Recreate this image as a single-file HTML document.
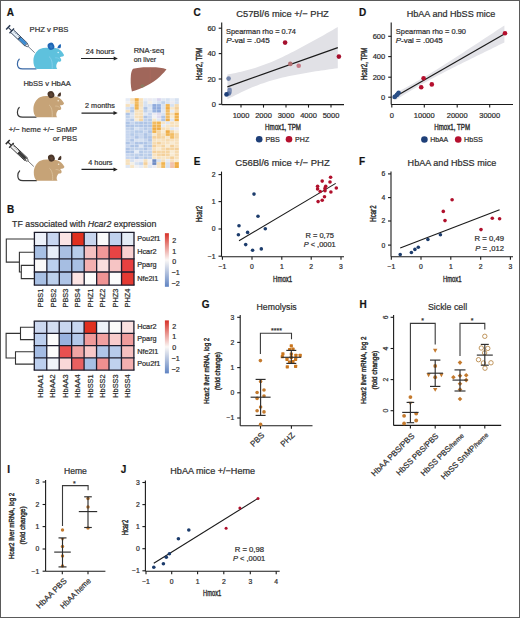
<!DOCTYPE html>
<html><head><meta charset="utf-8"><style>
html,body{margin:0;padding:0;background:#fff;}
svg{display:block;}
text{font-family:"Liberation Sans",sans-serif;stroke:#333;stroke-width:0.22px;}
</style></head><body>
<svg width="520" height="618" viewBox="0 0 520 618">
<rect x="0" y="0" width="520" height="618" fill="#fff"/>
<text x="6.7" y="15.9" font-size="10" fill="#111" font-weight="bold">A</text>
<text x="29.6" y="32" font-size="7.9" fill="#333" textLength="38.8" lengthAdjust="spacingAndGlyphs">PHZ v PBS</text>
<text x="23.4" y="85.7" font-size="7.9" fill="#333" textLength="47.5" lengthAdjust="spacingAndGlyphs">HbSS v HbAA</text>
<text x="8.7" y="131.7" font-size="7.9" fill="#333" textLength="68.3" lengthAdjust="spacingAndGlyphs">+/− heme +/− SnMP</text>
<text x="52.8" y="140.7" font-size="7.9" fill="#333" textLength="24.2" lengthAdjust="spacingAndGlyphs">or PBS</text>
<text x="85.7" y="53.8" font-size="7.4" fill="#333" textLength="28.7" lengthAdjust="spacingAndGlyphs">24 hours</text>
<text x="85.1" y="107.9" font-size="7.4" fill="#333" textLength="29.7" lengthAdjust="spacingAndGlyphs">2 months</text>
<text x="88.3" y="164.9" font-size="7.4" fill="#333" textLength="24.2" lengthAdjust="spacingAndGlyphs">4 hours</text>
<text x="133.7" y="53" font-size="7.4" fill="#333" textLength="30.5" lengthAdjust="spacingAndGlyphs">RNA·seq</text>
<text x="133.7" y="61.9" font-size="7.4" fill="#333" textLength="22.4" lengthAdjust="spacingAndGlyphs">on liver</text>
<line x1="81" y1="58.5" x2="114.7" y2="58.5" stroke="#222" stroke-width="1.1" />
<path d="M117.9,58.5 L113.7,56.5 L113.7,60.5 Z" fill="#222" />
<line x1="81.5" y1="113.1" x2="114.5" y2="113.1" stroke="#222" stroke-width="1.1" />
<path d="M117.7,113.1 L113.5,111.1 L113.5,115.1 Z" fill="#222" />
<line x1="81.5" y1="169.4" x2="114.5" y2="169.4" stroke="#222" stroke-width="1.1" />
<path d="M117.7,169.4 L113.5,167.4 L113.5,171.4 Z" fill="#222" />
<g transform="translate(0,0)">
<path d="M36,68.9 L22.5,68.9 C19.2,68.9 17.4,66.8 17.4,64 C17.4,61.6 18.1,60.2 19.2,59.2" fill="none" stroke="#3a69a6" stroke-width="1.2" stroke-linecap="round"/>
<path d="M36.5,68.9 C34.2,67.5 33.3,64 33.4,60.5 C33.5,55.5 36,51 40,49 C43,47.7 46,47.6 49,48 C52,48.3 55,47.8 57.5,48.6 C60,49.6 62.2,51.8 63.9,54.8 C64.2,55.6 63.6,56.3 62.6,56.6 C61.6,56.9 60.6,57 59.8,57.2 C60.6,58 61.4,59.3 61.2,60.4 C61,61.4 59.8,61.8 58.4,61.6 C57.3,62.5 56.6,64 56.3,65.6 C56.1,67 56.6,68.2 57.2,68.9 Z" fill="#5ec1dd" />
<ellipse cx="51" cy="46.3" rx="3.3" ry="3.6" transform="rotate(-25 51 46.3)" fill="#1f66b5"/>
<ellipse cx="51.2" cy="46.6" rx="1.5" ry="1.9" transform="rotate(-25 51.2 46.6)" fill="#2f7cc4"/>
<path d="M57.4,48.3 C57.6,46.5 58.6,45 60.6,44 C61.2,45.6 61.1,47.2 60.2,48.3 Z" fill="#1f66b5" />
<path d="M49,56.5 C51.5,58.5 52.6,62.5 52.2,68.6" fill="none" stroke="#8ad0ec" stroke-width="0.8" />
<path d="M55.2,57.8 C57,57.6 58.6,58.2 59.6,59.2" fill="none" stroke="#8ad0ec" stroke-width="0.7" />
<circle cx="58.2" cy="52.5" r="0.8" fill="#d6f2fb" />
</g>
<g transform="translate(0,48.3)">
<path d="M36,68.9 L22.5,68.9 C19.2,68.9 17.4,66.8 17.4,64 C17.4,61.6 18.1,60.2 19.2,59.2" fill="none" stroke="#383838" stroke-width="1.2" stroke-linecap="round"/>
<path d="M36.5,68.9 C34.2,67.5 33.3,64 33.4,60.5 C33.5,55.5 36,51 40,49 C43,47.7 46,47.6 49,48 C52,48.3 55,47.8 57.5,48.6 C60,49.6 62.2,51.8 63.9,54.8 C64.2,55.6 63.6,56.3 62.6,56.6 C61.6,56.9 60.6,57 59.8,57.2 C60.6,58 61.4,59.3 61.2,60.4 C61,61.4 59.8,61.8 58.4,61.6 C57.3,62.5 56.6,64 56.3,65.6 C56.1,67 56.6,68.2 57.2,68.9 Z" fill="#c6a377" />
<ellipse cx="51" cy="46.3" rx="3.3" ry="3.6" transform="rotate(-25 51 46.3)" fill="#4a3629"/>
<ellipse cx="51.2" cy="46.6" rx="1.5" ry="1.9" transform="rotate(-25 51.2 46.6)" fill="#5e4434"/>
<path d="M57.4,48.3 C57.6,46.5 58.6,45 60.6,44 C61.2,45.6 61.1,47.2 60.2,48.3 Z" fill="#4a3629" />
<path d="M49,56.5 C51.5,58.5 52.6,62.5 52.2,68.6" fill="none" stroke="#dcc4a0" stroke-width="0.8" />
<path d="M55.2,57.8 C57,57.6 58.6,58.2 59.6,59.2" fill="none" stroke="#dcc4a0" stroke-width="0.7" />
<circle cx="58.2" cy="52.5" r="0.8" fill="#f4ead6" />
</g>
<g transform="translate(0.4,111.8)">
<path d="M36,68.9 L22.5,68.9 C19.2,68.9 17.4,66.8 17.4,64 C17.4,61.6 18.1,60.2 19.2,59.2" fill="none" stroke="#383838" stroke-width="1.2" stroke-linecap="round"/>
<path d="M36.5,68.9 C34.2,67.5 33.3,64 33.4,60.5 C33.5,55.5 36,51 40,49 C43,47.7 46,47.6 49,48 C52,48.3 55,47.8 57.5,48.6 C60,49.6 62.2,51.8 63.9,54.8 C64.2,55.6 63.6,56.3 62.6,56.6 C61.6,56.9 60.6,57 59.8,57.2 C60.6,58 61.4,59.3 61.2,60.4 C61,61.4 59.8,61.8 58.4,61.6 C57.3,62.5 56.6,64 56.3,65.6 C56.1,67 56.6,68.2 57.2,68.9 Z" fill="#c6a377" />
<ellipse cx="51" cy="46.3" rx="3.3" ry="3.6" transform="rotate(-25 51 46.3)" fill="#4a3629"/>
<ellipse cx="51.2" cy="46.6" rx="1.5" ry="1.9" transform="rotate(-25 51.2 46.6)" fill="#5e4434"/>
<path d="M57.4,48.3 C57.6,46.5 58.6,45 60.6,44 C61.2,45.6 61.1,47.2 60.2,48.3 Z" fill="#4a3629" />
<path d="M49,56.5 C51.5,58.5 52.6,62.5 52.2,68.6" fill="none" stroke="#dcc4a0" stroke-width="0.8" />
<path d="M55.2,57.8 C57,57.6 58.6,58.2 59.6,59.2" fill="none" stroke="#dcc4a0" stroke-width="0.7" />
<circle cx="58.2" cy="52.5" r="0.8" fill="#f4ead6" />
</g>
<g transform="translate(7.3,26.6) rotate(43.61)">
<line x1="1.2" y1="-2.9" x2="1.2" y2="2.9" stroke="#2b3a52" stroke-width="1.5" />
<line x1="1.2" y1="0" x2="6.5" y2="0" stroke="#2b3a52" stroke-width="1.1" />
<line x1="6.2" y1="-3.3" x2="6.2" y2="3.3" stroke="#2b3a52" stroke-width="1.4" />
<rect x="6.5" y="-1.9" width="19.5" height="3.8" fill="#e8f2fa" stroke="#2b3a52" stroke-width="0.85"/>
<line x1="9" y1="-1.9" x2="9" y2="-0.5" stroke="#2b3a52" stroke-width="0.6" />
<line x1="11" y1="-1.9" x2="11" y2="-0.5" stroke="#2b3a52" stroke-width="0.6" />
<line x1="13" y1="-1.9" x2="13" y2="-0.5" stroke="#2b3a52" stroke-width="0.6" />
<line x1="15" y1="-1.9" x2="15" y2="-0.5" stroke="#2b3a52" stroke-width="0.6" />
<rect x="16.5" y="-1.5" width="9" height="3" fill="#3a8ad0" />
<line x1="16.6" y1="-1.9" x2="16.6" y2="1.9" stroke="#2b3a52" stroke-width="1.1" />
<path d="M26,-1.6 L28.6,-0.8 L28.6,0.8 L26,1.6 Z" fill="#e8f2fa" stroke="#2b3a52" stroke-width="0.7" />
<line x1="28.6" y1="0" x2="37.84" y2="0" stroke="#2b3a52" stroke-width="0.6" />
</g>
<g transform="translate(6.9,141.2) rotate(43.24)">
<line x1="1.2" y1="-2.9" x2="1.2" y2="2.9" stroke="#2e2e2e" stroke-width="1.5" />
<line x1="1.2" y1="0" x2="6.5" y2="0" stroke="#2e2e2e" stroke-width="1.1" />
<line x1="6.2" y1="-3.3" x2="6.2" y2="3.3" stroke="#2e2e2e" stroke-width="1.4" />
<rect x="6.5" y="-1.9" width="19.5" height="3.8" fill="#f0f0f0" stroke="#2e2e2e" stroke-width="0.85"/>
<line x1="9" y1="-1.9" x2="9" y2="-0.5" stroke="#2e2e2e" stroke-width="0.6" />
<line x1="11" y1="-1.9" x2="11" y2="-0.5" stroke="#2e2e2e" stroke-width="0.6" />
<line x1="13" y1="-1.9" x2="13" y2="-0.5" stroke="#2e2e2e" stroke-width="0.6" />
<line x1="15" y1="-1.9" x2="15" y2="-0.5" stroke="#2e2e2e" stroke-width="0.6" />
<rect x="16.5" y="-1.5" width="9" height="3" fill="#3a3a3a" />
<line x1="16.6" y1="-1.9" x2="16.6" y2="1.9" stroke="#2e2e2e" stroke-width="1.1" />
<path d="M26,-1.6 L28.6,-0.8 L28.6,0.8 L26,1.6 Z" fill="#f0f0f0" stroke="#2e2e2e" stroke-width="0.7" />
<line x1="28.6" y1="0" x2="36.93" y2="0" stroke="#2e2e2e" stroke-width="0.6" />
</g>
<path d="M133.1,68.8 C137,67.5 145,67 150,67.3 C156,67.2 162,67.5 166.5,69.3 C165.5,71 163.5,73 160,76.5 C156,80.5 151,83.5 146,86 C141,88.5 136,90.5 131.9,91.5 C130.5,86 130.5,80 130.9,75 C131.2,72 132,70 133.1,68.8 Z" fill="#a0665a" />
<line x1="150.2" y1="67.6" x2="150.2" y2="82.5" stroke="#b06a5e" stroke-width="0.6" />
<ellipse cx="142.5" cy="86" rx="2" ry="1.4" fill="#8a7a5e"/>
<rect x="125.6" y="98.2" width="4.48" height="2.95" fill="#e6ecf6" />
<rect x="130.03" y="98.2" width="4.48" height="2.95" fill="#f6e0bc" />
<rect x="134.47" y="98.2" width="4.48" height="2.95" fill="#efac44" />
<rect x="138.9" y="98.2" width="4.48" height="2.95" fill="#f8e1bc" />
<rect x="143.33" y="98.2" width="4.48" height="2.95" fill="#e6ecf6" />
<rect x="147.77" y="98.2" width="4.48" height="2.95" fill="#eceaf0" />
<rect x="152.2" y="98.2" width="4.48" height="2.95" fill="#e6ecf6" />
<rect x="156.63" y="98.2" width="4.48" height="2.95" fill="#d8d4ee" />
<rect x="161.07" y="98.2" width="4.48" height="2.95" fill="#dfe7f3" />
<rect x="165.5" y="98.2" width="4.48" height="2.95" fill="#d6e1f1" />
<rect x="169.93" y="98.2" width="4.48" height="2.95" fill="#e6ecf6" />
<rect x="174.37" y="98.2" width="4.48" height="2.95" fill="#d6e1f1" />
<rect x="125.6" y="101.1" width="4.48" height="2.95" fill="#f1f1f3" />
<rect x="130.03" y="101.1" width="4.48" height="2.95" fill="#f7e6c8" />
<rect x="134.47" y="101.1" width="4.48" height="2.95" fill="#f2bc62" />
<rect x="138.9" y="101.1" width="4.48" height="2.95" fill="#f6e0bc" />
<rect x="143.33" y="101.1" width="4.48" height="2.95" fill="#d6e1f1" />
<rect x="147.77" y="101.1" width="4.48" height="2.95" fill="#f4efe6" />
<rect x="152.2" y="101.1" width="4.48" height="2.95" fill="#e6ecf6" />
<rect x="156.63" y="101.1" width="4.48" height="2.95" fill="#d6e1f1" />
<rect x="161.07" y="101.1" width="4.48" height="2.95" fill="#bfd1eb" />
<rect x="165.5" y="101.1" width="4.48" height="2.95" fill="#d6e1f1" />
<rect x="169.93" y="101.1" width="4.48" height="2.95" fill="#eceaf0" />
<rect x="174.37" y="101.1" width="4.48" height="2.95" fill="#d6e1f1" />
<rect x="125.6" y="104.01" width="4.48" height="2.95" fill="#f6e0bc" />
<rect x="130.03" y="104.01" width="4.48" height="2.95" fill="#dfe7f3" />
<rect x="134.47" y="104.01" width="4.48" height="2.95" fill="#f0b450" />
<rect x="138.9" y="104.01" width="4.48" height="2.95" fill="#f6e0bc" />
<rect x="143.33" y="104.01" width="4.48" height="2.95" fill="#d6e1f1" />
<rect x="147.77" y="104.01" width="4.48" height="2.95" fill="#d6e1f1" />
<rect x="152.2" y="104.01" width="4.48" height="2.95" fill="#8eaadc" />
<rect x="156.63" y="104.01" width="4.48" height="2.95" fill="#98b2e0" />
<rect x="161.07" y="104.01" width="4.48" height="2.95" fill="#d6e1f1" />
<rect x="165.5" y="104.01" width="4.48" height="2.95" fill="#f0b450" />
<rect x="169.93" y="104.01" width="4.48" height="2.95" fill="#d6e1f1" />
<rect x="174.37" y="104.01" width="4.48" height="2.95" fill="#f6dbb0" />
<rect x="125.6" y="106.91" width="4.48" height="2.95" fill="#d6e1f1" />
<rect x="130.03" y="106.91" width="4.48" height="2.95" fill="#bfd1eb" />
<rect x="134.47" y="106.91" width="4.48" height="2.95" fill="#f0b450" />
<rect x="138.9" y="106.91" width="4.48" height="2.95" fill="#f7e6c8" />
<rect x="143.33" y="106.91" width="4.48" height="2.95" fill="#aec4e6" />
<rect x="147.77" y="106.91" width="4.48" height="2.95" fill="#dfe7f3" />
<rect x="152.2" y="106.91" width="4.48" height="2.95" fill="#8eaadc" />
<rect x="156.63" y="106.91" width="4.48" height="2.95" fill="#8eaadc" />
<rect x="161.07" y="106.91" width="4.48" height="2.95" fill="#d6e1f1" />
<rect x="165.5" y="106.91" width="4.48" height="2.95" fill="#efac44" />
<rect x="169.93" y="106.91" width="4.48" height="2.95" fill="#f7e6c8" />
<rect x="174.37" y="106.91" width="4.48" height="2.95" fill="#f4d09a" />
<rect x="125.6" y="109.82" width="4.48" height="2.95" fill="#f6e0bc" />
<rect x="130.03" y="109.82" width="4.48" height="2.95" fill="#b5cae8" />
<rect x="134.47" y="109.82" width="4.48" height="2.95" fill="#f8e1bc" />
<rect x="138.9" y="109.82" width="4.48" height="2.95" fill="#f6e0bc" />
<rect x="143.33" y="109.82" width="4.48" height="2.95" fill="#bfd1eb" />
<rect x="147.77" y="109.82" width="4.48" height="2.95" fill="#d6e1f1" />
<rect x="152.2" y="109.82" width="4.48" height="2.95" fill="#98b2e0" />
<rect x="156.63" y="109.82" width="4.48" height="2.95" fill="#8eaadc" />
<rect x="161.07" y="109.82" width="4.48" height="2.95" fill="#dfe7f3" />
<rect x="165.5" y="109.82" width="4.48" height="2.95" fill="#f2bc62" />
<rect x="169.93" y="109.82" width="4.48" height="2.95" fill="#e6ecf6" />
<rect x="174.37" y="109.82" width="4.48" height="2.95" fill="#f6dbb0" />
<rect x="125.6" y="112.72" width="4.48" height="2.95" fill="#aec4e6" />
<rect x="130.03" y="112.72" width="4.48" height="2.95" fill="#d6e1f1" />
<rect x="134.47" y="112.72" width="4.48" height="2.95" fill="#f8e1bc" />
<rect x="138.9" y="112.72" width="4.48" height="2.95" fill="#f6e0bc" />
<rect x="143.33" y="112.72" width="4.48" height="2.95" fill="#dfe7f3" />
<rect x="147.77" y="112.72" width="4.48" height="2.95" fill="#c6d5ee" />
<rect x="152.2" y="112.72" width="4.48" height="2.95" fill="#eceaf0" />
<rect x="156.63" y="112.72" width="4.48" height="2.95" fill="#e0dcf0" />
<rect x="161.07" y="112.72" width="4.48" height="2.95" fill="#d6e1f1" />
<rect x="165.5" y="112.72" width="4.48" height="2.95" fill="#f2bc62" />
<rect x="169.93" y="112.72" width="4.48" height="2.95" fill="#f6e0bc" />
<rect x="174.37" y="112.72" width="4.48" height="2.95" fill="#efac44" />
<rect x="125.6" y="115.62" width="4.48" height="2.95" fill="#bfd1eb" />
<rect x="130.03" y="115.62" width="4.48" height="2.95" fill="#d6e1f1" />
<rect x="134.47" y="115.62" width="4.48" height="2.95" fill="#f6e0bc" />
<rect x="138.9" y="115.62" width="4.48" height="2.95" fill="#f6dbb0" />
<rect x="143.33" y="115.62" width="4.48" height="2.95" fill="#aec4e6" />
<rect x="147.77" y="115.62" width="4.48" height="2.95" fill="#c6d5ee" />
<rect x="152.2" y="115.62" width="4.48" height="2.95" fill="#f1f1f3" />
<rect x="156.63" y="115.62" width="4.48" height="2.95" fill="#e0dcf0" />
<rect x="161.07" y="115.62" width="4.48" height="2.95" fill="#aec4e6" />
<rect x="165.5" y="115.62" width="4.48" height="2.95" fill="#f2bc62" />
<rect x="169.93" y="115.62" width="4.48" height="2.95" fill="#f8ebd3" />
<rect x="174.37" y="115.62" width="4.48" height="2.95" fill="#f0b450" />
<rect x="125.6" y="118.53" width="4.48" height="2.95" fill="#c6d5ee" />
<rect x="130.03" y="118.53" width="4.48" height="2.95" fill="#b5cae8" />
<rect x="134.47" y="118.53" width="4.48" height="2.95" fill="#f8ebd3" />
<rect x="138.9" y="118.53" width="4.48" height="2.95" fill="#f5d5a2" />
<rect x="143.33" y="118.53" width="4.48" height="2.95" fill="#bfd1eb" />
<rect x="147.77" y="118.53" width="4.48" height="2.95" fill="#b5cae8" />
<rect x="152.2" y="118.53" width="4.48" height="2.95" fill="#f7e6c8" />
<rect x="156.63" y="118.53" width="4.48" height="2.95" fill="#dfe7f3" />
<rect x="161.07" y="118.53" width="4.48" height="2.95" fill="#aec4e6" />
<rect x="165.5" y="118.53" width="4.48" height="2.95" fill="#efac44" />
<rect x="169.93" y="118.53" width="4.48" height="2.95" fill="#dfe7f3" />
<rect x="174.37" y="118.53" width="4.48" height="2.95" fill="#efac44" />
<rect x="125.6" y="121.43" width="4.48" height="2.95" fill="#aec4e6" />
<rect x="130.03" y="121.43" width="4.48" height="2.95" fill="#c6d5ee" />
<rect x="134.47" y="121.43" width="4.48" height="2.95" fill="#b5cae8" />
<rect x="138.9" y="121.43" width="4.48" height="2.95" fill="#aec4e6" />
<rect x="143.33" y="121.43" width="4.48" height="2.95" fill="#aec4e6" />
<rect x="147.77" y="121.43" width="4.48" height="2.95" fill="#b5cae8" />
<rect x="152.2" y="121.43" width="4.48" height="2.95" fill="#f2bc62" />
<rect x="156.63" y="121.43" width="4.48" height="2.95" fill="#f0b450" />
<rect x="161.07" y="121.43" width="4.48" height="2.95" fill="#f7e6c8" />
<rect x="165.5" y="121.43" width="4.48" height="2.95" fill="#dfe7f3" />
<rect x="169.93" y="121.43" width="4.48" height="2.95" fill="#f8e1bc" />
<rect x="174.37" y="121.43" width="4.48" height="2.95" fill="#f7e6c8" />
<rect x="125.6" y="124.34" width="4.48" height="2.95" fill="#aec4e6" />
<rect x="130.03" y="124.34" width="4.48" height="2.95" fill="#aec4e6" />
<rect x="134.47" y="124.34" width="4.48" height="2.95" fill="#b5cae8" />
<rect x="138.9" y="124.34" width="4.48" height="2.95" fill="#aec4e6" />
<rect x="143.33" y="124.34" width="4.48" height="2.95" fill="#aec4e6" />
<rect x="147.77" y="124.34" width="4.48" height="2.95" fill="#aec4e6" />
<rect x="152.2" y="124.34" width="4.48" height="2.95" fill="#f0b450" />
<rect x="156.63" y="124.34" width="4.48" height="2.95" fill="#f0b450" />
<rect x="161.07" y="124.34" width="4.48" height="2.95" fill="#e6ecf6" />
<rect x="165.5" y="124.34" width="4.48" height="2.95" fill="#f7e6c8" />
<rect x="169.93" y="124.34" width="4.48" height="2.95" fill="#f8e1bc" />
<rect x="174.37" y="124.34" width="4.48" height="2.95" fill="#f6e0bc" />
<rect x="125.6" y="127.24" width="4.48" height="2.95" fill="#bfd1eb" />
<rect x="130.03" y="127.24" width="4.48" height="2.95" fill="#b5cae8" />
<rect x="134.47" y="127.24" width="4.48" height="2.95" fill="#d6e1f1" />
<rect x="138.9" y="127.24" width="4.48" height="2.95" fill="#c6d5ee" />
<rect x="143.33" y="127.24" width="4.48" height="2.95" fill="#b5cae8" />
<rect x="147.77" y="127.24" width="4.48" height="2.95" fill="#bfd1eb" />
<rect x="152.2" y="127.24" width="4.48" height="2.95" fill="#efac44" />
<rect x="156.63" y="127.24" width="4.48" height="2.95" fill="#efac44" />
<rect x="161.07" y="127.24" width="4.48" height="2.95" fill="#f6e0bc" />
<rect x="165.5" y="127.24" width="4.48" height="2.95" fill="#f8e1bc" />
<rect x="169.93" y="127.24" width="4.48" height="2.95" fill="#dfe7f3" />
<rect x="174.37" y="127.24" width="4.48" height="2.95" fill="#eceaf0" />
<rect x="125.6" y="130.15" width="4.48" height="2.95" fill="#c6d5ee" />
<rect x="130.03" y="130.15" width="4.48" height="2.95" fill="#bfd1eb" />
<rect x="134.47" y="130.15" width="4.48" height="2.95" fill="#b5cae8" />
<rect x="138.9" y="130.15" width="4.48" height="2.95" fill="#b5cae8" />
<rect x="143.33" y="130.15" width="4.48" height="2.95" fill="#c6d5ee" />
<rect x="147.77" y="130.15" width="4.48" height="2.95" fill="#aec4e6" />
<rect x="152.2" y="130.15" width="4.48" height="2.95" fill="#f0b450" />
<rect x="156.63" y="130.15" width="4.48" height="2.95" fill="#f5d5a2" />
<rect x="161.07" y="130.15" width="4.48" height="2.95" fill="#f8ebd3" />
<rect x="165.5" y="130.15" width="4.48" height="2.95" fill="#efac44" />
<rect x="169.93" y="130.15" width="4.48" height="2.95" fill="#f5d5a2" />
<rect x="174.37" y="130.15" width="4.48" height="2.95" fill="#f8ebd3" />
<rect x="125.6" y="133.05" width="4.48" height="2.95" fill="#c6d5ee" />
<rect x="130.03" y="133.05" width="4.48" height="2.95" fill="#b5cae8" />
<rect x="134.47" y="133.05" width="4.48" height="2.95" fill="#bfd1eb" />
<rect x="138.9" y="133.05" width="4.48" height="2.95" fill="#c6d5ee" />
<rect x="143.33" y="133.05" width="4.48" height="2.95" fill="#aec4e6" />
<rect x="147.77" y="133.05" width="4.48" height="2.95" fill="#bfd1eb" />
<rect x="152.2" y="133.05" width="4.48" height="2.95" fill="#f7e6c8" />
<rect x="156.63" y="133.05" width="4.48" height="2.95" fill="#f4d09a" />
<rect x="161.07" y="133.05" width="4.48" height="2.95" fill="#f6e0bc" />
<rect x="165.5" y="133.05" width="4.48" height="2.95" fill="#f0b450" />
<rect x="169.93" y="133.05" width="4.48" height="2.95" fill="#f2bc62" />
<rect x="174.37" y="133.05" width="4.48" height="2.95" fill="#f5d5a2" />
<rect x="125.6" y="135.95" width="4.48" height="2.95" fill="#c6d5ee" />
<rect x="130.03" y="135.95" width="4.48" height="2.95" fill="#c6d5ee" />
<rect x="134.47" y="135.95" width="4.48" height="2.95" fill="#aec4e6" />
<rect x="138.9" y="135.95" width="4.48" height="2.95" fill="#c6d5ee" />
<rect x="143.33" y="135.95" width="4.48" height="2.95" fill="#aec4e6" />
<rect x="147.77" y="135.95" width="4.48" height="2.95" fill="#aec4e6" />
<rect x="152.2" y="135.95" width="4.48" height="2.95" fill="#f4d09a" />
<rect x="156.63" y="135.95" width="4.48" height="2.95" fill="#f4d09a" />
<rect x="161.07" y="135.95" width="4.48" height="2.95" fill="#f5d5a2" />
<rect x="165.5" y="135.95" width="4.48" height="2.95" fill="#f7e6c8" />
<rect x="169.93" y="135.95" width="4.48" height="2.95" fill="#f2bc62" />
<rect x="174.37" y="135.95" width="4.48" height="2.95" fill="#f5d5a2" />
<rect x="125.6" y="138.86" width="4.48" height="2.95" fill="#c6d5ee" />
<rect x="130.03" y="138.86" width="4.48" height="2.95" fill="#aec4e6" />
<rect x="134.47" y="138.86" width="4.48" height="2.95" fill="#d6e1f1" />
<rect x="138.9" y="138.86" width="4.48" height="2.95" fill="#d6e1f1" />
<rect x="143.33" y="138.86" width="4.48" height="2.95" fill="#c6d5ee" />
<rect x="147.77" y="138.86" width="4.48" height="2.95" fill="#aec4e6" />
<rect x="152.2" y="138.86" width="4.48" height="2.95" fill="#f8e1bc" />
<rect x="156.63" y="138.86" width="4.48" height="2.95" fill="#f7e6c8" />
<rect x="161.07" y="138.86" width="4.48" height="2.95" fill="#f8e1bc" />
<rect x="165.5" y="138.86" width="4.48" height="2.95" fill="#f6dbb0" />
<rect x="169.93" y="138.86" width="4.48" height="2.95" fill="#f8e1bc" />
<rect x="174.37" y="138.86" width="4.48" height="2.95" fill="#f8e1bc" />
<rect x="125.6" y="141.76" width="4.48" height="2.95" fill="#aec4e6" />
<rect x="130.03" y="141.76" width="4.48" height="2.95" fill="#c6d5ee" />
<rect x="134.47" y="141.76" width="4.48" height="2.95" fill="#aec4e6" />
<rect x="138.9" y="141.76" width="4.48" height="2.95" fill="#aec4e6" />
<rect x="143.33" y="141.76" width="4.48" height="2.95" fill="#aec4e6" />
<rect x="147.77" y="141.76" width="4.48" height="2.95" fill="#bfd1eb" />
<rect x="152.2" y="141.76" width="4.48" height="2.95" fill="#f6dbb0" />
<rect x="156.63" y="141.76" width="4.48" height="2.95" fill="#f4d09a" />
<rect x="161.07" y="141.76" width="4.48" height="2.95" fill="#f8e1bc" />
<rect x="165.5" y="141.76" width="4.48" height="2.95" fill="#f8e1bc" />
<rect x="169.93" y="141.76" width="4.48" height="2.95" fill="#f8ebd3" />
<rect x="174.37" y="141.76" width="4.48" height="2.95" fill="#f8e1bc" />
<rect x="125.6" y="144.67" width="4.48" height="2.95" fill="#c6d5ee" />
<rect x="130.03" y="144.67" width="4.48" height="2.95" fill="#aec4e6" />
<rect x="134.47" y="144.67" width="4.48" height="2.95" fill="#aec4e6" />
<rect x="138.9" y="144.67" width="4.48" height="2.95" fill="#dfe7f3" />
<rect x="143.33" y="144.67" width="4.48" height="2.95" fill="#aec4e6" />
<rect x="147.77" y="144.67" width="4.48" height="2.95" fill="#aec4e6" />
<rect x="152.2" y="144.67" width="4.48" height="2.95" fill="#f4d09a" />
<rect x="156.63" y="144.67" width="4.48" height="2.95" fill="#f8e1bc" />
<rect x="161.07" y="144.67" width="4.48" height="2.95" fill="#f5d5a2" />
<rect x="165.5" y="144.67" width="4.48" height="2.95" fill="#f8ebd3" />
<rect x="169.93" y="144.67" width="4.48" height="2.95" fill="#f4d09a" />
<rect x="174.37" y="144.67" width="4.48" height="2.95" fill="#f8e1bc" />
<rect x="125.6" y="147.57" width="4.48" height="2.95" fill="#aec4e6" />
<rect x="130.03" y="147.57" width="4.48" height="2.95" fill="#bfd1eb" />
<rect x="134.47" y="147.57" width="4.48" height="2.95" fill="#bfd1eb" />
<rect x="138.9" y="147.57" width="4.48" height="2.95" fill="#bfd1eb" />
<rect x="143.33" y="147.57" width="4.48" height="2.95" fill="#aec4e6" />
<rect x="147.77" y="147.57" width="4.48" height="2.95" fill="#c6d5ee" />
<rect x="152.2" y="147.57" width="4.48" height="2.95" fill="#f8e1bc" />
<rect x="156.63" y="147.57" width="4.48" height="2.95" fill="#f8ebd3" />
<rect x="161.07" y="147.57" width="4.48" height="2.95" fill="#f6dbb0" />
<rect x="165.5" y="147.57" width="4.48" height="2.95" fill="#f4d09a" />
<rect x="169.93" y="147.57" width="4.48" height="2.95" fill="#f5d5a2" />
<rect x="174.37" y="147.57" width="4.48" height="2.95" fill="#f4d09a" />
<rect x="125.6" y="150.48" width="4.48" height="2.95" fill="#aec4e6" />
<rect x="130.03" y="150.48" width="4.48" height="2.95" fill="#aec4e6" />
<rect x="134.47" y="150.48" width="4.48" height="2.95" fill="#e6ecf6" />
<rect x="138.9" y="150.48" width="4.48" height="2.95" fill="#b5cae8" />
<rect x="143.33" y="150.48" width="4.48" height="2.95" fill="#bfd1eb" />
<rect x="147.77" y="150.48" width="4.48" height="2.95" fill="#bfd1eb" />
<rect x="152.2" y="150.48" width="4.48" height="2.95" fill="#f4d09a" />
<rect x="156.63" y="150.48" width="4.48" height="2.95" fill="#f5d5a2" />
<rect x="161.07" y="150.48" width="4.48" height="2.95" fill="#f5d5a2" />
<rect x="165.5" y="150.48" width="4.48" height="2.95" fill="#f5d5a2" />
<rect x="169.93" y="150.48" width="4.48" height="2.95" fill="#f8ebd3" />
<rect x="174.37" y="150.48" width="4.48" height="2.95" fill="#f6dbb0" />
<rect x="125.6" y="153.38" width="4.48" height="2.95" fill="#c6d5ee" />
<rect x="130.03" y="153.38" width="4.48" height="2.95" fill="#bfd1eb" />
<rect x="134.47" y="153.38" width="4.48" height="2.95" fill="#bfd1eb" />
<rect x="138.9" y="153.38" width="4.48" height="2.95" fill="#b5cae8" />
<rect x="143.33" y="153.38" width="4.48" height="2.95" fill="#bfd1eb" />
<rect x="147.77" y="153.38" width="4.48" height="2.95" fill="#b5cae8" />
<rect x="152.2" y="153.38" width="4.48" height="2.95" fill="#f8e1bc" />
<rect x="156.63" y="153.38" width="4.48" height="2.95" fill="#f5d5a2" />
<rect x="161.07" y="153.38" width="4.48" height="2.95" fill="#f4d09a" />
<rect x="165.5" y="153.38" width="4.48" height="2.95" fill="#f5d5a2" />
<rect x="169.93" y="153.38" width="4.48" height="2.95" fill="#f8ebd3" />
<rect x="174.37" y="153.38" width="4.48" height="2.95" fill="#f6dbb0" />
<rect x="125.6" y="156.28" width="4.48" height="2.95" fill="#c6d5ee" />
<rect x="130.03" y="156.28" width="4.48" height="2.95" fill="#c6d5ee" />
<rect x="134.47" y="156.28" width="4.48" height="2.95" fill="#aec4e6" />
<rect x="138.9" y="156.28" width="4.48" height="2.95" fill="#c6d5ee" />
<rect x="143.33" y="156.28" width="4.48" height="2.95" fill="#b5cae8" />
<rect x="147.77" y="156.28" width="4.48" height="2.95" fill="#bfd1eb" />
<rect x="152.2" y="156.28" width="4.48" height="2.95" fill="#f7e6c8" />
<rect x="156.63" y="156.28" width="4.48" height="2.95" fill="#f8e1bc" />
<rect x="161.07" y="156.28" width="4.48" height="2.95" fill="#f7e6c8" />
<rect x="165.5" y="156.28" width="4.48" height="2.95" fill="#f8e1bc" />
<rect x="169.93" y="156.28" width="4.48" height="2.95" fill="#f4d09a" />
<rect x="174.37" y="156.28" width="4.48" height="2.95" fill="#f8e1bc" />
<rect x="125.6" y="159.19" width="4.48" height="2.95" fill="#f6e0bc" />
<rect x="130.03" y="159.19" width="4.48" height="2.95" fill="#d6e1f1" />
<rect x="134.47" y="159.19" width="4.48" height="2.95" fill="#eceaf0" />
<rect x="138.9" y="159.19" width="4.48" height="2.95" fill="#e6ecf6" />
<rect x="143.33" y="159.19" width="4.48" height="2.95" fill="#f6e0bc" />
<rect x="147.77" y="159.19" width="4.48" height="2.95" fill="#f1f1f3" />
<rect x="152.2" y="159.19" width="4.48" height="2.95" fill="#6f8cc4" />
<rect x="156.63" y="159.19" width="4.48" height="2.95" fill="#d6e1f1" />
<rect x="161.07" y="159.19" width="4.48" height="2.95" fill="#f6e0bc" />
<rect x="165.5" y="159.19" width="4.48" height="2.95" fill="#e6ecf6" />
<rect x="169.93" y="159.19" width="4.48" height="2.95" fill="#f8e1bc" />
<rect x="174.37" y="159.19" width="4.48" height="2.95" fill="#f8ebd3" />
<rect x="125.6" y="162.09" width="4.48" height="2.95" fill="#f6e0bc" />
<rect x="130.03" y="162.09" width="4.48" height="2.95" fill="#f4efe6" />
<rect x="134.47" y="162.09" width="4.48" height="2.95" fill="#d6e1f1" />
<rect x="138.9" y="162.09" width="4.48" height="2.95" fill="#c6d5ee" />
<rect x="143.33" y="162.09" width="4.48" height="2.95" fill="#f4d09a" />
<rect x="147.77" y="162.09" width="4.48" height="2.95" fill="#eceaf0" />
<rect x="152.2" y="162.09" width="4.48" height="2.95" fill="#6f8cc4" />
<rect x="156.63" y="162.09" width="4.48" height="2.95" fill="#f6e0bc" />
<rect x="161.07" y="162.09" width="4.48" height="2.95" fill="#f0b450" />
<rect x="165.5" y="162.09" width="4.48" height="2.95" fill="#d6e1f1" />
<rect x="169.93" y="162.09" width="4.48" height="2.95" fill="#f2c0a8" />
<rect x="174.37" y="162.09" width="4.48" height="2.95" fill="#efac44" />
<rect x="125.6" y="165" width="4.48" height="2.95" fill="#dfe7f3" />
<rect x="130.03" y="165" width="4.48" height="2.95" fill="#f7e6c8" />
<rect x="134.47" y="165" width="4.48" height="2.95" fill="#f1f1f3" />
<rect x="138.9" y="165" width="4.48" height="2.95" fill="#e6ecf6" />
<rect x="143.33" y="165" width="4.48" height="2.95" fill="#f7e6c8" />
<rect x="147.77" y="165" width="4.48" height="2.95" fill="#dfe7f3" />
<rect x="152.2" y="165" width="4.48" height="2.95" fill="#eceaf0" />
<rect x="156.63" y="165" width="4.48" height="2.95" fill="#f7e6c8" />
<rect x="161.07" y="165" width="4.48" height="2.95" fill="#f2bc62" />
<rect x="165.5" y="165" width="4.48" height="2.95" fill="#d6e1f1" />
<rect x="169.93" y="165" width="4.48" height="2.95" fill="#f2c0a8" />
<rect x="174.37" y="165" width="4.48" height="2.95" fill="#efac44" />
<line x1="130.03" y1="98.2" x2="130.03" y2="167.9" stroke="#ffffff" stroke-width="0.45" stroke-opacity="0.55"/>
<line x1="134.47" y1="98.2" x2="134.47" y2="167.9" stroke="#ffffff" stroke-width="0.45" stroke-opacity="0.55"/>
<line x1="138.9" y1="98.2" x2="138.9" y2="167.9" stroke="#ffffff" stroke-width="0.45" stroke-opacity="0.55"/>
<line x1="143.33" y1="98.2" x2="143.33" y2="167.9" stroke="#ffffff" stroke-width="0.45" stroke-opacity="0.55"/>
<line x1="147.77" y1="98.2" x2="147.77" y2="167.9" stroke="#ffffff" stroke-width="0.45" stroke-opacity="0.55"/>
<line x1="152.2" y1="98.2" x2="152.2" y2="167.9" stroke="#ffffff" stroke-width="0.45" stroke-opacity="0.55"/>
<line x1="156.63" y1="98.2" x2="156.63" y2="167.9" stroke="#ffffff" stroke-width="0.45" stroke-opacity="0.55"/>
<line x1="161.07" y1="98.2" x2="161.07" y2="167.9" stroke="#ffffff" stroke-width="0.45" stroke-opacity="0.55"/>
<line x1="165.5" y1="98.2" x2="165.5" y2="167.9" stroke="#ffffff" stroke-width="0.45" stroke-opacity="0.55"/>
<line x1="169.93" y1="98.2" x2="169.93" y2="167.9" stroke="#ffffff" stroke-width="0.45" stroke-opacity="0.55"/>
<line x1="174.37" y1="98.2" x2="174.37" y2="167.9" stroke="#ffffff" stroke-width="0.45" stroke-opacity="0.55"/>
<line x1="125.6" y1="101.1" x2="178.8" y2="101.1" stroke="#ffffff" stroke-width="0.35" stroke-opacity="0.4"/>
<line x1="125.6" y1="104.01" x2="178.8" y2="104.01" stroke="#ffffff" stroke-width="0.35" stroke-opacity="0.4"/>
<line x1="125.6" y1="106.91" x2="178.8" y2="106.91" stroke="#ffffff" stroke-width="0.35" stroke-opacity="0.4"/>
<line x1="125.6" y1="109.82" x2="178.8" y2="109.82" stroke="#ffffff" stroke-width="0.35" stroke-opacity="0.4"/>
<line x1="125.6" y1="112.72" x2="178.8" y2="112.72" stroke="#ffffff" stroke-width="0.35" stroke-opacity="0.4"/>
<line x1="125.6" y1="115.62" x2="178.8" y2="115.62" stroke="#ffffff" stroke-width="0.35" stroke-opacity="0.4"/>
<line x1="125.6" y1="118.53" x2="178.8" y2="118.53" stroke="#ffffff" stroke-width="0.35" stroke-opacity="0.4"/>
<line x1="125.6" y1="121.43" x2="178.8" y2="121.43" stroke="#ffffff" stroke-width="0.35" stroke-opacity="0.4"/>
<line x1="125.6" y1="124.34" x2="178.8" y2="124.34" stroke="#ffffff" stroke-width="0.35" stroke-opacity="0.4"/>
<line x1="125.6" y1="127.24" x2="178.8" y2="127.24" stroke="#ffffff" stroke-width="0.35" stroke-opacity="0.4"/>
<line x1="125.6" y1="130.15" x2="178.8" y2="130.15" stroke="#ffffff" stroke-width="0.35" stroke-opacity="0.4"/>
<line x1="125.6" y1="133.05" x2="178.8" y2="133.05" stroke="#ffffff" stroke-width="0.35" stroke-opacity="0.4"/>
<line x1="125.6" y1="135.95" x2="178.8" y2="135.95" stroke="#ffffff" stroke-width="0.35" stroke-opacity="0.4"/>
<line x1="125.6" y1="138.86" x2="178.8" y2="138.86" stroke="#ffffff" stroke-width="0.35" stroke-opacity="0.4"/>
<line x1="125.6" y1="141.76" x2="178.8" y2="141.76" stroke="#ffffff" stroke-width="0.35" stroke-opacity="0.4"/>
<line x1="125.6" y1="144.67" x2="178.8" y2="144.67" stroke="#ffffff" stroke-width="0.35" stroke-opacity="0.4"/>
<line x1="125.6" y1="147.57" x2="178.8" y2="147.57" stroke="#ffffff" stroke-width="0.35" stroke-opacity="0.4"/>
<line x1="125.6" y1="150.48" x2="178.8" y2="150.48" stroke="#ffffff" stroke-width="0.35" stroke-opacity="0.4"/>
<line x1="125.6" y1="153.38" x2="178.8" y2="153.38" stroke="#ffffff" stroke-width="0.35" stroke-opacity="0.4"/>
<line x1="125.6" y1="156.28" x2="178.8" y2="156.28" stroke="#ffffff" stroke-width="0.35" stroke-opacity="0.4"/>
<line x1="125.6" y1="159.19" x2="178.8" y2="159.19" stroke="#ffffff" stroke-width="0.35" stroke-opacity="0.4"/>
<line x1="125.6" y1="162.09" x2="178.8" y2="162.09" stroke="#ffffff" stroke-width="0.35" stroke-opacity="0.4"/>
<line x1="125.6" y1="165" x2="178.8" y2="165" stroke="#ffffff" stroke-width="0.35" stroke-opacity="0.4"/>
<text x="6.9" y="213.2" font-size="10" fill="#111" font-weight="bold">B</text>
<text x="12.1" y="227" font-size="9.1" fill="#2b2b2b" textLength="144.2" lengthAdjust="spacingAndGlyphs">TF associated with <tspan font-style="italic">Hcar2</tspan> expression</text>
<rect x="34.4" y="232.4" width="12.45" height="13.2" fill="#eef2fa" />
<rect x="46.85" y="232.4" width="12.45" height="13.2" fill="#c8d6f0" />
<rect x="59.3" y="232.4" width="12.45" height="13.2" fill="#fbe4e4" />
<rect x="71.75" y="232.4" width="12.45" height="13.2" fill="#e0301e" />
<rect x="84.2" y="232.4" width="12.45" height="13.2" fill="#c8d6ee" />
<rect x="96.65" y="232.4" width="12.45" height="13.2" fill="#fafafa" />
<rect x="109.1" y="232.4" width="12.45" height="13.2" fill="#c0d2ee" />
<rect x="121.55" y="232.4" width="12.45" height="13.2" fill="#e4ecf6" />
<rect x="34.4" y="245.6" width="12.45" height="13.2" fill="#a8c0e4" />
<rect x="46.85" y="245.6" width="12.45" height="13.2" fill="#e8eef8" />
<rect x="59.3" y="245.6" width="12.45" height="13.2" fill="#aac0e2" />
<rect x="71.75" y="245.6" width="12.45" height="13.2" fill="#b8cdea" />
<rect x="84.2" y="245.6" width="12.45" height="13.2" fill="#f4c0c0" />
<rect x="96.65" y="245.6" width="12.45" height="13.2" fill="#f09898" />
<rect x="109.1" y="245.6" width="12.45" height="13.2" fill="#e84444" />
<rect x="121.55" y="245.6" width="12.45" height="13.2" fill="#f8d0d0" />
<rect x="34.4" y="258.8" width="12.45" height="13.2" fill="#fbfafa" />
<rect x="46.85" y="258.8" width="12.45" height="13.2" fill="#bcd0ee" />
<rect x="59.3" y="258.8" width="12.45" height="13.2" fill="#a6bee2" />
<rect x="71.75" y="258.8" width="12.45" height="13.2" fill="#a8c0e4" />
<rect x="84.2" y="258.8" width="12.45" height="13.2" fill="#f4b0b0" />
<rect x="96.65" y="258.8" width="12.45" height="13.2" fill="#fadede" />
<rect x="109.1" y="258.8" width="12.45" height="13.2" fill="#f6c4c4" />
<rect x="121.55" y="258.8" width="12.45" height="13.2" fill="#e84040" />
<rect x="34.4" y="272" width="12.45" height="13.2" fill="#a8c0e4" />
<rect x="46.85" y="272" width="12.45" height="13.2" fill="#bcd0ec" />
<rect x="59.3" y="272" width="12.45" height="13.2" fill="#aec4e6" />
<rect x="71.75" y="272" width="12.45" height="13.2" fill="#fce4e4" />
<rect x="84.2" y="272" width="12.45" height="13.2" fill="#fcfcfc" />
<rect x="96.65" y="272" width="12.45" height="13.2" fill="#f09494" />
<rect x="109.1" y="272" width="12.45" height="13.2" fill="#fcfcfc" />
<rect x="121.55" y="272" width="12.45" height="13.2" fill="#e43a32" />
<line x1="33.8" y1="232.4" x2="134.6" y2="232.4" stroke="#1c1c2c" stroke-width="1.3" />
<line x1="33.8" y1="245.6" x2="134.6" y2="245.6" stroke="#1c1c2c" stroke-width="1.3" />
<line x1="33.8" y1="258.8" x2="134.6" y2="258.8" stroke="#1c1c2c" stroke-width="1.3" />
<line x1="33.8" y1="272" x2="134.6" y2="272" stroke="#1c1c2c" stroke-width="1.3" />
<line x1="33.8" y1="285.2" x2="134.6" y2="285.2" stroke="#1c1c2c" stroke-width="1.3" />
<line x1="34.4" y1="232.4" x2="34.4" y2="285.2" stroke="#1c1c2c" stroke-width="1.3" />
<line x1="46.85" y1="232.4" x2="46.85" y2="285.2" stroke="#1c1c2c" stroke-width="1.3" />
<line x1="59.3" y1="232.4" x2="59.3" y2="285.2" stroke="#1c1c2c" stroke-width="1.3" />
<line x1="71.75" y1="232.4" x2="71.75" y2="285.2" stroke="#1c1c2c" stroke-width="1.3" />
<line x1="84.2" y1="232.4" x2="84.2" y2="285.2" stroke="#1c1c2c" stroke-width="1.3" />
<line x1="96.65" y1="232.4" x2="96.65" y2="285.2" stroke="#1c1c2c" stroke-width="1.3" />
<line x1="109.1" y1="232.4" x2="109.1" y2="285.2" stroke="#1c1c2c" stroke-width="1.3" />
<line x1="121.55" y1="232.4" x2="121.55" y2="285.2" stroke="#1c1c2c" stroke-width="1.3" />
<line x1="134" y1="232.4" x2="134" y2="285.2" stroke="#1c1c2c" stroke-width="1.3" />
<text x="137.2" y="240.7" font-size="7.3" fill="#2b2b2b">Pou2f1</text>
<text x="137.2" y="254" font-size="7.3" fill="#2b2b2b">Hcar2</text>
<text x="137.2" y="267.2" font-size="7.3" fill="#2b2b2b">Pparg</text>
<text x="137.2" y="280.5" font-size="7.3" fill="#2b2b2b">Nfe2l1</text>
<text transform="translate(43.12,288.6) rotate(-90)" font-size="7.4" text-anchor="end" fill="#2b2b2b">PBS1</text>
<text transform="translate(55.57,288.6) rotate(-90)" font-size="7.4" text-anchor="end" fill="#2b2b2b">PBS2</text>
<text transform="translate(68.03,288.6) rotate(-90)" font-size="7.4" text-anchor="end" fill="#2b2b2b">PBS3</text>
<text transform="translate(80.47,288.6) rotate(-90)" font-size="7.4" text-anchor="end" fill="#2b2b2b">PBS4</text>
<text transform="translate(92.92,288.6) rotate(-90)" font-size="7.4" text-anchor="end" fill="#2b2b2b">PHZ1</text>
<text transform="translate(105.38,288.6) rotate(-90)" font-size="7.4" text-anchor="end" fill="#2b2b2b">PHZ2</text>
<text transform="translate(117.82,288.6) rotate(-90)" font-size="7.4" text-anchor="end" fill="#2b2b2b">PHZ3</text>
<text transform="translate(130.28,288.6) rotate(-90)" font-size="7.4" text-anchor="end" fill="#2b2b2b">PHZ4</text>
<rect x="34.3" y="321.2" width="12.45" height="12.25" fill="#ccd8f0" />
<rect x="46.75" y="321.2" width="12.45" height="12.25" fill="#d4def2" />
<rect x="59.2" y="321.2" width="12.45" height="12.25" fill="#c8d6f0" />
<rect x="71.65" y="321.2" width="12.45" height="12.25" fill="#c8d6f0" />
<rect x="84.1" y="321.2" width="12.45" height="12.25" fill="#e03020" />
<rect x="96.55" y="321.2" width="12.45" height="12.25" fill="#eef2fa" />
<rect x="109" y="321.2" width="12.45" height="12.25" fill="#fafafa" />
<rect x="121.45" y="321.2" width="12.45" height="12.25" fill="#fae0e0" />
<rect x="34.3" y="333.45" width="12.45" height="12.25" fill="#bccfee" />
<rect x="46.75" y="333.45" width="12.45" height="12.25" fill="#fcfcfc" />
<rect x="59.2" y="333.45" width="12.45" height="12.25" fill="#98b2e0" />
<rect x="71.65" y="333.45" width="12.45" height="12.25" fill="#b4c8ea" />
<rect x="84.1" y="333.45" width="12.45" height="12.25" fill="#f09a9a" />
<rect x="96.55" y="333.45" width="12.45" height="12.25" fill="#f0a0a0" />
<rect x="109" y="333.45" width="12.45" height="12.25" fill="#f8cccc" />
<rect x="121.45" y="333.45" width="12.45" height="12.25" fill="#f09c9c" />
<rect x="34.3" y="345.7" width="12.45" height="12.25" fill="#a4bce4" />
<rect x="46.75" y="345.7" width="12.45" height="12.25" fill="#fcfcfc" />
<rect x="59.2" y="345.7" width="12.45" height="12.25" fill="#e85050" />
<rect x="71.65" y="345.7" width="12.45" height="12.25" fill="#f0a4a4" />
<rect x="84.1" y="345.7" width="12.45" height="12.25" fill="#f8c8c8" />
<rect x="96.55" y="345.7" width="12.45" height="12.25" fill="#b0c6e8" />
<rect x="109" y="345.7" width="12.45" height="12.25" fill="#b8cceb" />
<rect x="121.45" y="345.7" width="12.45" height="12.25" fill="#f6c0c0" />
<rect x="34.3" y="357.95" width="12.45" height="12.25" fill="#bccfee" />
<rect x="46.75" y="357.95" width="12.45" height="12.25" fill="#f0f4fa" />
<rect x="59.2" y="357.95" width="12.45" height="12.25" fill="#fad8d8" />
<rect x="71.65" y="357.95" width="12.45" height="12.25" fill="#e86060" />
<rect x="84.1" y="357.95" width="12.45" height="12.25" fill="#a8c0e4" />
<rect x="96.55" y="357.95" width="12.45" height="12.25" fill="#f09090" />
<rect x="109" y="357.95" width="12.45" height="12.25" fill="#c0d2ee" />
<rect x="121.45" y="357.95" width="12.45" height="12.25" fill="#f4b0b0" />
<line x1="33.7" y1="321.2" x2="134.5" y2="321.2" stroke="#1c1c2c" stroke-width="1.3" />
<line x1="33.7" y1="333.45" x2="134.5" y2="333.45" stroke="#1c1c2c" stroke-width="1.3" />
<line x1="33.7" y1="345.7" x2="134.5" y2="345.7" stroke="#1c1c2c" stroke-width="1.3" />
<line x1="33.7" y1="357.95" x2="134.5" y2="357.95" stroke="#1c1c2c" stroke-width="1.3" />
<line x1="33.7" y1="370.2" x2="134.5" y2="370.2" stroke="#1c1c2c" stroke-width="1.3" />
<line x1="34.3" y1="321.2" x2="34.3" y2="370.2" stroke="#1c1c2c" stroke-width="1.3" />
<line x1="46.75" y1="321.2" x2="46.75" y2="370.2" stroke="#1c1c2c" stroke-width="1.3" />
<line x1="59.2" y1="321.2" x2="59.2" y2="370.2" stroke="#1c1c2c" stroke-width="1.3" />
<line x1="71.65" y1="321.2" x2="71.65" y2="370.2" stroke="#1c1c2c" stroke-width="1.3" />
<line x1="84.1" y1="321.2" x2="84.1" y2="370.2" stroke="#1c1c2c" stroke-width="1.3" />
<line x1="96.55" y1="321.2" x2="96.55" y2="370.2" stroke="#1c1c2c" stroke-width="1.3" />
<line x1="109" y1="321.2" x2="109" y2="370.2" stroke="#1c1c2c" stroke-width="1.3" />
<line x1="121.45" y1="321.2" x2="121.45" y2="370.2" stroke="#1c1c2c" stroke-width="1.3" />
<line x1="133.9" y1="321.2" x2="133.9" y2="370.2" stroke="#1c1c2c" stroke-width="1.3" />
<text x="137.2" y="328.7" font-size="7.3" fill="#2b2b2b">Hcar2</text>
<text x="137.2" y="341.4" font-size="7.3" fill="#2b2b2b">Pparg</text>
<text x="137.2" y="353.5" font-size="7.3" fill="#2b2b2b">Nfe2l1</text>
<text x="137.2" y="366.2" font-size="7.3" fill="#2b2b2b">Pou2f1</text>
<text transform="translate(43.02,374.4) rotate(-90)" font-size="7.4" text-anchor="end" fill="#2b2b2b">HbAA1</text>
<text transform="translate(55.47,374.4) rotate(-90)" font-size="7.4" text-anchor="end" fill="#2b2b2b">HbAA2</text>
<text transform="translate(67.92,374.4) rotate(-90)" font-size="7.4" text-anchor="end" fill="#2b2b2b">HbAA3</text>
<text transform="translate(80.38,374.4) rotate(-90)" font-size="7.4" text-anchor="end" fill="#2b2b2b">HbAA4</text>
<text transform="translate(92.82,374.4) rotate(-90)" font-size="7.4" text-anchor="end" fill="#2b2b2b">HbSS1</text>
<text transform="translate(105.27,374.4) rotate(-90)" font-size="7.4" text-anchor="end" fill="#2b2b2b">HbSS2</text>
<text transform="translate(117.72,374.4) rotate(-90)" font-size="7.4" text-anchor="end" fill="#2b2b2b">HbSS3</text>
<text transform="translate(130.18,374.4) rotate(-90)" font-size="7.4" text-anchor="end" fill="#2b2b2b">HbSS4</text>
<path d="M34.4,265.4 H21.3 V278.6 H34.4" fill="none" stroke="#333" stroke-width="1.1" />
<path d="M34.4,252.2 H19.4 V272 H21.3" fill="none" stroke="#333" stroke-width="1.1" />
<path d="M34.4,239 H6.3 V262.1 H19.4" fill="none" stroke="#333" stroke-width="1.1" />
<path d="M34.3,327.3 H20.5 V339.6 H34.3" fill="none" stroke="#333" stroke-width="1.1" />
<path d="M34.3,351.8 H15.5 V364.1 H34.3" fill="none" stroke="#333" stroke-width="1.1" />
<path d="M20.5,333.4 H6.1 V358 H15.5" fill="none" stroke="#333" stroke-width="1.1" />
<defs><linearGradient id="cb" x1="0" y1="0" x2="0" y2="1"><stop offset="0" stop-color="#d73027"/><stop offset="0.5" stop-color="#fbf8f6"/><stop offset="1" stop-color="#5f83c2"/></linearGradient></defs>
<rect x="164.9" y="233.2" width="4" height="53.6" fill="url(#cb)" />
<text x="172.2" y="242.6" font-size="7.1" fill="#2b2b2b">2</text>
<text x="172.2" y="253.5" font-size="7.1" fill="#2b2b2b">1</text>
<text x="172.2" y="263.9" font-size="7.1" fill="#2b2b2b">0</text>
<text x="171.6" y="274.9" font-size="7.1" fill="#2b2b2b">−1</text>
<text x="171.6" y="285.9" font-size="7.1" fill="#2b2b2b">−2</text>
<rect x="164.9" y="320.4" width="4" height="53" fill="url(#cb)" />
<text x="172.2" y="328.9" font-size="7.1" fill="#2b2b2b">2</text>
<text x="172.2" y="339.3" font-size="7.1" fill="#2b2b2b">1</text>
<text x="172.2" y="349.6" font-size="7.1" fill="#2b2b2b">0</text>
<text x="171.6" y="360.6" font-size="7.1" fill="#2b2b2b">−1</text>
<text x="171.6" y="371.6" font-size="7.1" fill="#2b2b2b">−2</text>
<text x="193.5" y="15.6" font-size="10" fill="#111" font-weight="bold">C</text>
<text x="236.3" y="17.1" font-size="9.2" fill="#2b2b2b" textLength="92.5" lengthAdjust="spacingAndGlyphs">C57Bl/6 mice +/− PHZ</text>
<path d="M227.4,74.55 L230.16,74.02 L232.92,73.47 L235.68,72.89 L238.44,72.29 L241.2,71.65 L243.96,70.98 L246.72,70.28 L249.48,69.53 L252.24,68.75 L255,67.91 L257.76,67.03 L260.52,66.1 L263.28,65.12 L266.04,64.09 L268.8,63.01 L271.56,61.88 L274.32,60.71 L277.08,59.49 L279.84,58.23 L282.6,56.94 L285.36,55.61 L288.12,54.25 L290.88,52.86 L293.64,51.45 L296.4,50.02 L299.16,48.57 L301.92,47.1 L304.68,45.61 L307.44,44.11 L310.2,42.6 L312.96,41.08 L315.72,39.54 L318.48,38 L321.24,36.45 L324,34.89 L326.76,33.32 L329.52,31.75 L332.28,30.18 L335.04,28.59 L337.8,27.01 L337.8,68.19 L335.04,68.57 L332.28,68.95 L329.52,69.34 L326.76,69.73 L324,70.13 L321.24,70.54 L318.48,70.95 L315.72,71.37 L312.96,71.8 L310.2,72.25 L307.44,72.7 L304.68,73.16 L301.92,73.64 L299.16,74.14 L296.4,74.65 L293.64,75.18 L290.88,75.74 L288.12,76.32 L285.36,76.92 L282.6,77.56 L279.84,78.23 L277.08,78.94 L274.32,79.69 L271.56,80.48 L268.8,81.31 L266.04,82.2 L263.28,83.13 L260.52,84.12 L257.76,85.15 L255,86.24 L252.24,87.37 L249.48,88.55 L246.72,89.77 L243.96,91.03 L241.2,92.32 L238.44,93.65 L235.68,95.01 L232.92,96.4 L230.16,97.81 L227.4,99.25 Z" fill="#e1e1e6" />
<line x1="227.4" y1="86.9" x2="337.8" y2="47.6" stroke="#1a1a1a" stroke-width="1.2" />
<line x1="221.7" y1="22.5" x2="221.7" y2="104.6" stroke="#1a1a1a" stroke-width="1.1" />
<line x1="218.7" y1="28.2" x2="221.7" y2="28.2" stroke="#1a1a1a" stroke-width="1.1" />
<text x="215.8" y="30.9" font-size="7.5" text-anchor="end" fill="#2b2b2b">60</text>
<line x1="218.7" y1="53.6" x2="221.7" y2="53.6" stroke="#1a1a1a" stroke-width="1.1" />
<text x="215.8" y="56.3" font-size="7.5" text-anchor="end" fill="#2b2b2b">40</text>
<line x1="218.7" y1="79" x2="221.7" y2="79" stroke="#1a1a1a" stroke-width="1.1" />
<text x="215.8" y="81.7" font-size="7.5" text-anchor="end" fill="#2b2b2b">20</text>
<line x1="218.7" y1="104.3" x2="221.7" y2="104.3" stroke="#1a1a1a" stroke-width="1.1" />
<text x="215.8" y="107" font-size="7.5" text-anchor="end" fill="#2b2b2b">0</text>
<line x1="221.7" y1="104.6" x2="344" y2="104.6" stroke="#1a1a1a" stroke-width="1.1" />
<line x1="241" y1="104.6" x2="241" y2="107.6" stroke="#1a1a1a" stroke-width="1.1" />
<text x="241" y="117.7" font-size="7.5" text-anchor="middle" fill="#2b2b2b">1000</text>
<line x1="263.5" y1="104.6" x2="263.5" y2="107.6" stroke="#1a1a1a" stroke-width="1.1" />
<text x="263.5" y="117.7" font-size="7.5" text-anchor="middle" fill="#2b2b2b">2000</text>
<line x1="286" y1="104.6" x2="286" y2="107.6" stroke="#1a1a1a" stroke-width="1.1" />
<text x="286" y="117.7" font-size="7.5" text-anchor="middle" fill="#2b2b2b">3000</text>
<line x1="308.5" y1="104.6" x2="308.5" y2="107.6" stroke="#1a1a1a" stroke-width="1.1" />
<text x="308.5" y="117.7" font-size="7.5" text-anchor="middle" fill="#2b2b2b">4000</text>
<line x1="331" y1="104.6" x2="331" y2="107.6" stroke="#1a1a1a" stroke-width="1.1" />
<text x="331" y="117.7" font-size="7.5" text-anchor="middle" fill="#2b2b2b">5000</text>
<circle cx="228.6" cy="78.6" r="2.3" fill="#7183aa" />
<circle cx="229.6" cy="89.9" r="2.3" fill="#7888ae" />
<circle cx="229.6" cy="92" r="2.3" fill="#8090b4" />
<circle cx="228.8" cy="93.5" r="2.3" fill="#5f76a4" />
<circle cx="226.5" cy="94.4" r="2.3" fill="#1e3f78" />
<circle cx="285.1" cy="42.6" r="2.3" fill="#a50f2d" />
<circle cx="290.3" cy="63.9" r="2.3" fill="#b27073" />
<circle cx="298.7" cy="65.8" r="2.3" fill="#c77a86" />
<circle cx="338.9" cy="56.6" r="2.3" fill="#a50f2d" />
<text x="226" y="33.8" font-size="7.7" fill="#2b2b2b" textLength="70" lengthAdjust="spacingAndGlyphs">Spearman rho = 0.74</text>
<text x="226.3" y="42.6" font-size="7.7" fill="#2b2b2b" textLength="43.5" lengthAdjust="spacingAndGlyphs"><tspan font-style="italic">P</tspan>-val = .045</text>
<text transform="translate(201.5,63.85) rotate(-90)" font-size="9" text-anchor="middle" fill="#2b2b2b" textLength="32.3" lengthAdjust="spacingAndGlyphs" style="stroke-width:0.45px">Hcar2, TPM</text>
<text x="265.1" y="130.4" font-size="9" fill="#2b2b2b" textLength="35.8" lengthAdjust="spacingAndGlyphs" style="stroke-width:0.45px">Hmox1, TPM</text>
<circle cx="259.2" cy="139.3" r="3.3" fill="#1e3f78" />
<text x="265.5" y="142" font-size="7.2" fill="#2b2b2b" textLength="14.4" lengthAdjust="spacingAndGlyphs">PBS</text>
<circle cx="289" cy="139.3" r="3.3" fill="#b5102e" />
<text x="295.1" y="142" font-size="7.2" fill="#2b2b2b" textLength="14.1" lengthAdjust="spacingAndGlyphs">PHZ</text>
<text x="359" y="15.6" font-size="10" fill="#111" font-weight="bold">D</text>
<text x="406.7" y="17.1" font-size="9.2" fill="#2b2b2b" textLength="88.7" lengthAdjust="spacingAndGlyphs">HbAA and HbSS mice</text>
<path d="M395,93.21 L397.74,91.78 L400.47,90.34 L403.2,88.89 L405.94,87.42 L408.68,85.93 L411.41,84.43 L414.14,82.9 L416.88,81.35 L419.62,79.77 L422.35,78.18 L425.08,76.56 L427.82,74.92 L430.56,73.26 L433.29,71.59 L436.02,69.89 L438.76,68.19 L441.5,66.47 L444.23,64.73 L446.96,62.99 L449.7,61.24 L452.44,59.49 L455.17,57.72 L457.9,55.95 L460.64,54.17 L463.38,52.39 L466.11,50.61 L468.84,48.82 L471.58,47.03 L474.31,45.24 L477.05,43.44 L479.78,41.64 L482.52,39.84 L485.25,38.04 L487.99,36.24 L490.72,34.43 L493.46,32.63 L496.19,30.82 L498.93,29.01 L501.66,27.2 L504.4,25.39 L504.4,42.46 L501.66,43.79 L498.93,45.12 L496.19,46.46 L493.46,47.79 L490.72,49.13 L487.99,50.47 L485.25,51.81 L482.52,53.15 L479.78,54.49 L477.05,55.83 L474.31,57.18 L471.58,58.53 L468.84,59.88 L466.11,61.23 L463.38,62.59 L460.64,63.95 L457.9,65.32 L455.17,66.69 L452.44,68.07 L449.7,69.46 L446.96,70.85 L444.23,72.25 L441.5,73.66 L438.76,75.08 L436.02,76.52 L433.29,77.97 L430.56,79.43 L427.82,80.92 L425.08,82.42 L422.35,83.95 L419.62,85.49 L416.88,87.06 L414.14,88.65 L411.41,90.27 L408.68,91.9 L405.94,93.56 L403.2,95.23 L400.47,96.92 L397.74,98.63 L395,100.34 Z" fill="#e3e3e8" />
<line x1="395.5" y1="96.49" x2="504.4" y2="33.92" stroke="#1a1a1a" stroke-width="1.2" />
<line x1="391.2" y1="22.5" x2="391.2" y2="104.5" stroke="#1a1a1a" stroke-width="1.1" />
<line x1="388.2" y1="36.3" x2="391.2" y2="36.3" stroke="#1a1a1a" stroke-width="1.1" />
<text x="385.2" y="39" font-size="7.5" text-anchor="end" fill="#2b2b2b">600</text>
<line x1="388.2" y1="56.6" x2="391.2" y2="56.6" stroke="#1a1a1a" stroke-width="1.1" />
<text x="385.2" y="59.3" font-size="7.5" text-anchor="end" fill="#2b2b2b">400</text>
<line x1="388.2" y1="77.2" x2="391.2" y2="77.2" stroke="#1a1a1a" stroke-width="1.1" />
<text x="385.2" y="79.9" font-size="7.5" text-anchor="end" fill="#2b2b2b">200</text>
<line x1="388.2" y1="97.2" x2="391.2" y2="97.2" stroke="#1a1a1a" stroke-width="1.1" />
<text x="385.2" y="99.9" font-size="7.5" text-anchor="end" fill="#2b2b2b">0</text>
<line x1="391.2" y1="104.5" x2="513" y2="104.5" stroke="#1a1a1a" stroke-width="1.1" />
<line x1="391.8" y1="104.5" x2="391.8" y2="107.5" stroke="#1a1a1a" stroke-width="1.1" />
<text x="391.8" y="117.8" font-size="7.5" text-anchor="middle" fill="#2b2b2b">0</text>
<line x1="424.3" y1="104.5" x2="424.3" y2="107.5" stroke="#1a1a1a" stroke-width="1.1" />
<text x="424.3" y="117.8" font-size="7.5" text-anchor="middle" fill="#2b2b2b">10000</text>
<line x1="457.2" y1="104.5" x2="457.2" y2="107.5" stroke="#1a1a1a" stroke-width="1.1" />
<text x="457.2" y="117.8" font-size="7.5" text-anchor="middle" fill="#2b2b2b">20000</text>
<line x1="489.7" y1="104.5" x2="489.7" y2="107.5" stroke="#1a1a1a" stroke-width="1.1" />
<text x="489.7" y="117.8" font-size="7.5" text-anchor="middle" fill="#2b2b2b">30000</text>
<circle cx="423.6" cy="78.2" r="2.3" fill="#b5102e" />
<circle cx="421.2" cy="87.3" r="2.3" fill="#b5102e" />
<circle cx="431.8" cy="84.4" r="2.3" fill="#b5102e" />
<circle cx="505" cy="33.2" r="2.3" fill="#b5102e" />
<circle cx="395.2" cy="96.4" r="2.2" fill="#2b4f86" />
<circle cx="398.6" cy="92.6" r="2.2" fill="#2b4f86" />
<circle cx="396.8" cy="95" r="2.2" fill="#2b4f86" />
<circle cx="397.6" cy="94.2" r="2.2" fill="#2b4f86" />
<circle cx="394.5" cy="97" r="2.2" fill="#2b4f86" />
<text x="395.8" y="33.6" font-size="7.7" fill="#2b2b2b" textLength="70.2" lengthAdjust="spacingAndGlyphs">Spearman rho = 0.90</text>
<text x="395.8" y="43.2" font-size="7.7" fill="#2b2b2b" textLength="47" lengthAdjust="spacingAndGlyphs"><tspan font-style="italic">P</tspan>-val = .0045</text>
<text transform="translate(366.6,63.9) rotate(-90)" font-size="9" text-anchor="middle" fill="#2b2b2b" textLength="32.4" lengthAdjust="spacingAndGlyphs" style="stroke-width:0.45px">Hcar2, TPM</text>
<text x="434.3" y="130.4" font-size="9" fill="#2b2b2b" textLength="35.7" lengthAdjust="spacingAndGlyphs" style="stroke-width:0.45px">Hmox1, TPM</text>
<circle cx="424.4" cy="139.5" r="3.3" fill="#1e3f78" />
<text x="430.2" y="142.2" font-size="7.2" fill="#2b2b2b" textLength="18" lengthAdjust="spacingAndGlyphs">HbAA</text>
<circle cx="458.2" cy="139.5" r="3.3" fill="#b5102e" />
<text x="464" y="142.2" font-size="7.2" fill="#2b2b2b" textLength="18.8" lengthAdjust="spacingAndGlyphs">HbSS</text>
<text x="193.8" y="164.7" font-size="10" fill="#111" font-weight="bold">E</text>
<text x="235.3" y="166.3" font-size="9.2" fill="#2b2b2b" textLength="94.4" lengthAdjust="spacingAndGlyphs">C56Bl/6 mice +/− PHZ</text>
<line x1="221.5" y1="171.6" x2="221.5" y2="256.7" stroke="#1a1a1a" stroke-width="1.1" />
<line x1="218.5" y1="174.6" x2="221.5" y2="174.6" stroke="#1a1a1a" stroke-width="1.1" />
<text x="215.6" y="177.05" font-size="6.8" text-anchor="end" fill="#2b2b2b">2</text>
<line x1="218.5" y1="201.6" x2="221.5" y2="201.6" stroke="#1a1a1a" stroke-width="1.1" />
<text x="215.6" y="204.05" font-size="6.8" text-anchor="end" fill="#2b2b2b">1</text>
<line x1="218.5" y1="229" x2="221.5" y2="229" stroke="#1a1a1a" stroke-width="1.1" />
<text x="215.6" y="231.45" font-size="6.8" text-anchor="end" fill="#2b2b2b">0</text>
<line x1="218.5" y1="256.2" x2="221.5" y2="256.2" stroke="#1a1a1a" stroke-width="1.1" />
<text x="215.6" y="258.65" font-size="6.8" text-anchor="end" fill="#2b2b2b">−1</text>
<line x1="221.5" y1="256.7" x2="344" y2="256.7" stroke="#1a1a1a" stroke-width="1.1" />
<line x1="222.4" y1="256.7" x2="222.4" y2="259.7" stroke="#1a1a1a" stroke-width="1.1" />
<text x="222.4" y="268.9" font-size="6.8" text-anchor="middle" fill="#2b2b2b">−1</text>
<line x1="252" y1="256.7" x2="252" y2="259.7" stroke="#1a1a1a" stroke-width="1.1" />
<text x="252" y="268.9" font-size="6.8" text-anchor="middle" fill="#2b2b2b">0</text>
<line x1="281.8" y1="256.7" x2="281.8" y2="259.7" stroke="#1a1a1a" stroke-width="1.1" />
<text x="281.8" y="268.9" font-size="6.8" text-anchor="middle" fill="#2b2b2b">1</text>
<line x1="311.2" y1="256.7" x2="311.2" y2="259.7" stroke="#1a1a1a" stroke-width="1.1" />
<text x="311.2" y="268.9" font-size="6.8" text-anchor="middle" fill="#2b2b2b">2</text>
<line x1="341" y1="256.7" x2="341" y2="259.7" stroke="#1a1a1a" stroke-width="1.1" />
<text x="341" y="268.9" font-size="6.8" text-anchor="middle" fill="#2b2b2b">3</text>
<line x1="239" y1="240.8" x2="335.7" y2="183.4" stroke="#1a1a1a" stroke-width="1.1" />
<circle cx="254" cy="194.1" r="1.8" fill="#1c3c6c" />
<circle cx="258" cy="216.3" r="1.8" fill="#1c3c6c" />
<circle cx="239" cy="225.7" r="1.8" fill="#1c3c6c" />
<circle cx="265.3" cy="228.7" r="1.8" fill="#1c3c6c" />
<circle cx="247.6" cy="232.4" r="1.8" fill="#1c3c6c" />
<circle cx="238.4" cy="234.8" r="1.8" fill="#1c3c6c" />
<circle cx="245.7" cy="244.6" r="1.8" fill="#1c3c6c" />
<circle cx="252.6" cy="250.3" r="1.8" fill="#1c3c6c" />
<circle cx="261.3" cy="248.9" r="1.8" fill="#1c3c6c" />
<circle cx="330.6" cy="177.3" r="1.8" fill="#b0102c" />
<circle cx="322.2" cy="181.1" r="1.8" fill="#b0102c" />
<circle cx="330" cy="182" r="1.8" fill="#b0102c" />
<circle cx="317.6" cy="186.3" r="1.8" fill="#b0102c" />
<circle cx="325.7" cy="186.3" r="1.8" fill="#b0102c" />
<circle cx="336.3" cy="188" r="1.8" fill="#b0102c" />
<circle cx="317.6" cy="188.9" r="1.8" fill="#b0102c" />
<circle cx="325" cy="188.4" r="1.8" fill="#b0102c" />
<circle cx="320.2" cy="191.5" r="1.8" fill="#b0102c" />
<circle cx="325" cy="190.7" r="1.8" fill="#b0102c" />
<circle cx="330.9" cy="192" r="1.8" fill="#b0102c" />
<circle cx="324.5" cy="196.7" r="1.8" fill="#b0102c" />
<circle cx="322.2" cy="200.2" r="1.8" fill="#b0102c" />
<circle cx="318.1" cy="201.6" r="1.8" fill="#b0102c" />
<text transform="translate(201.9,213.95) rotate(-90)" font-size="9.4" text-anchor="middle" fill="#2b2b2b" textLength="16.3" lengthAdjust="spacingAndGlyphs" style="stroke-width:0.45px">Hcar2</text>
<text x="273.1" y="281.8" font-size="9" fill="#2b2b2b" textLength="19" lengthAdjust="spacingAndGlyphs" style="stroke-width:0.45px">Hmox1</text>
<text x="334" y="237.8" font-size="7.7" text-anchor="end" fill="#2b2b2b" textLength="28.5" lengthAdjust="spacingAndGlyphs">R = 0,75</text>
<text x="335.7" y="247.3" font-size="7.7" text-anchor="end" fill="#2b2b2b" textLength="32" lengthAdjust="spacingAndGlyphs"><tspan font-style="italic">P</tspan> &lt; ,0001</text>
<text x="359" y="164.7" font-size="10" fill="#111" font-weight="bold">F</text>
<text x="407.6" y="166.3" font-size="9.2" fill="#2b2b2b" textLength="88.7" lengthAdjust="spacingAndGlyphs">HbAA and HbSS mice</text>
<line x1="391" y1="171.6" x2="391" y2="256.7" stroke="#1a1a1a" stroke-width="1.1" />
<line x1="388" y1="173.9" x2="391" y2="173.9" stroke="#1a1a1a" stroke-width="1.1" />
<text x="385.3" y="176.35" font-size="6.8" text-anchor="end" fill="#2b2b2b">6</text>
<line x1="388" y1="197.6" x2="391" y2="197.6" stroke="#1a1a1a" stroke-width="1.1" />
<text x="385.3" y="200.05" font-size="6.8" text-anchor="end" fill="#2b2b2b">4</text>
<line x1="388" y1="221" x2="391" y2="221" stroke="#1a1a1a" stroke-width="1.1" />
<text x="385.3" y="223.45" font-size="6.8" text-anchor="end" fill="#2b2b2b">2</text>
<line x1="388" y1="245.1" x2="391" y2="245.1" stroke="#1a1a1a" stroke-width="1.1" />
<text x="385.3" y="247.55" font-size="6.8" text-anchor="end" fill="#2b2b2b">0</text>
<line x1="391" y1="256.7" x2="513" y2="256.7" stroke="#1a1a1a" stroke-width="1.1" />
<line x1="391.3" y1="256.7" x2="391.3" y2="259.7" stroke="#1a1a1a" stroke-width="1.1" />
<text x="391.3" y="268.9" font-size="6.8" text-anchor="middle" fill="#2b2b2b">−1</text>
<line x1="421" y1="256.7" x2="421" y2="259.7" stroke="#1a1a1a" stroke-width="1.1" />
<text x="421" y="268.9" font-size="6.8" text-anchor="middle" fill="#2b2b2b">0</text>
<line x1="450.8" y1="256.7" x2="450.8" y2="259.7" stroke="#1a1a1a" stroke-width="1.1" />
<text x="450.8" y="268.9" font-size="6.8" text-anchor="middle" fill="#2b2b2b">1</text>
<line x1="480.7" y1="256.7" x2="480.7" y2="259.7" stroke="#1a1a1a" stroke-width="1.1" />
<text x="480.7" y="268.9" font-size="6.8" text-anchor="middle" fill="#2b2b2b">2</text>
<line x1="510.4" y1="256.7" x2="510.4" y2="259.7" stroke="#1a1a1a" stroke-width="1.1" />
<text x="510.4" y="268.9" font-size="6.8" text-anchor="middle" fill="#2b2b2b">3</text>
<line x1="400.2" y1="248" x2="499.6" y2="209.7" stroke="#1a1a1a" stroke-width="1.1" />
<circle cx="400.2" cy="254.6" r="1.8" fill="#1c3c6c" />
<circle cx="411.4" cy="252.5" r="1.8" fill="#1c3c6c" />
<circle cx="414.9" cy="249.4" r="1.8" fill="#1c3c6c" />
<circle cx="418.3" cy="247.3" r="1.8" fill="#1c3c6c" />
<circle cx="427.9" cy="239.5" r="1.8" fill="#1c3c6c" />
<circle cx="440.4" cy="234.8" r="1.8" fill="#1c3c6c" />
<circle cx="452.1" cy="199.7" r="1.8" fill="#b0102c" />
<circle cx="443.3" cy="211.4" r="1.8" fill="#b0102c" />
<circle cx="445" cy="220.6" r="1.8" fill="#b0102c" />
<circle cx="492.3" cy="218.3" r="1.8" fill="#b0102c" />
<circle cx="499.6" cy="218.7" r="1.8" fill="#b0102c" />
<circle cx="481" cy="229.6" r="1.8" fill="#b0102c" />
<text transform="translate(375.9,213.6) rotate(-90)" font-size="9.4" text-anchor="middle" fill="#2b2b2b" textLength="16.3" lengthAdjust="spacingAndGlyphs" style="stroke-width:0.45px">Hcar2</text>
<text x="443" y="281.8" font-size="9" fill="#2b2b2b" textLength="18.5" lengthAdjust="spacingAndGlyphs" style="stroke-width:0.45px">Hmox1</text>
<text x="504" y="241.3" font-size="7.7" text-anchor="end" fill="#2b2b2b" textLength="29.4" lengthAdjust="spacingAndGlyphs">R = 0,49</text>
<text x="504" y="250.6" font-size="7.7" text-anchor="end" fill="#2b2b2b" textLength="28.7" lengthAdjust="spacingAndGlyphs"><tspan font-style="italic">P</tspan> = ,012</text>
<text x="120.7" y="472.5" font-size="10" fill="#111" font-weight="bold">J</text>
<text x="170.3" y="474.1" font-size="9.2" fill="#2b2b2b" textLength="84.8" lengthAdjust="spacingAndGlyphs">HbAA mice +/−Heme</text>
<line x1="145.4" y1="480.4" x2="145.4" y2="571.2" stroke="#1a1a1a" stroke-width="1.1" />
<line x1="142.4" y1="482.5" x2="145.4" y2="482.5" stroke="#1a1a1a" stroke-width="1.1" />
<text x="139.7" y="484.95" font-size="6.8" text-anchor="end" fill="#2b2b2b">3</text>
<line x1="142.4" y1="504.6" x2="145.4" y2="504.6" stroke="#1a1a1a" stroke-width="1.1" />
<text x="139.7" y="507.05" font-size="6.8" text-anchor="end" fill="#2b2b2b">2</text>
<line x1="142.4" y1="526.6" x2="145.4" y2="526.6" stroke="#1a1a1a" stroke-width="1.1" />
<text x="139.7" y="529.05" font-size="6.8" text-anchor="end" fill="#2b2b2b">1</text>
<line x1="142.4" y1="548.7" x2="145.4" y2="548.7" stroke="#1a1a1a" stroke-width="1.1" />
<text x="139.7" y="551.15" font-size="6.8" text-anchor="end" fill="#2b2b2b">0</text>
<line x1="142.4" y1="570.8" x2="145.4" y2="570.8" stroke="#1a1a1a" stroke-width="1.1" />
<text x="139.7" y="573.25" font-size="6.8" text-anchor="end" fill="#2b2b2b">−1</text>
<line x1="145.4" y1="571.2" x2="279.7" y2="571.2" stroke="#1a1a1a" stroke-width="1.1" />
<line x1="146" y1="571.2" x2="146" y2="574.2" stroke="#1a1a1a" stroke-width="1.1" />
<text x="146" y="583.8" font-size="6.8" text-anchor="middle" fill="#2b2b2b">−1</text>
<line x1="171.7" y1="571.2" x2="171.7" y2="574.2" stroke="#1a1a1a" stroke-width="1.1" />
<text x="171.7" y="583.8" font-size="6.8" text-anchor="middle" fill="#2b2b2b">0</text>
<line x1="197.6" y1="571.2" x2="197.6" y2="574.2" stroke="#1a1a1a" stroke-width="1.1" />
<text x="197.6" y="583.8" font-size="6.8" text-anchor="middle" fill="#2b2b2b">1</text>
<line x1="223.8" y1="571.2" x2="223.8" y2="574.2" stroke="#1a1a1a" stroke-width="1.1" />
<text x="223.8" y="583.8" font-size="6.8" text-anchor="middle" fill="#2b2b2b">2</text>
<line x1="250.3" y1="571.2" x2="250.3" y2="574.2" stroke="#1a1a1a" stroke-width="1.1" />
<text x="250.3" y="583.8" font-size="6.8" text-anchor="middle" fill="#2b2b2b">3</text>
<line x1="276.2" y1="571.2" x2="276.2" y2="574.2" stroke="#1a1a1a" stroke-width="1.1" />
<text x="276.2" y="583.8" font-size="6.8" text-anchor="middle" fill="#2b2b2b">4</text>
<line x1="153.8" y1="563.2" x2="258" y2="498.4" stroke="#1a1a1a" stroke-width="1.1" />
<circle cx="153.8" cy="567.2" r="1.8" fill="#1c3c6c" />
<circle cx="163.4" cy="563.7" r="1.8" fill="#1c3c6c" />
<circle cx="166.3" cy="557.2" r="1.8" fill="#1c3c6c" />
<circle cx="169.4" cy="553.7" r="1.8" fill="#1c3c6c" />
<circle cx="178.4" cy="538.7" r="1.8" fill="#1c3c6c" />
<circle cx="188.8" cy="530" r="1.8" fill="#1c3c6c" />
<circle cx="226.1" cy="528.3" r="1.5" fill="#b0102c" />
<circle cx="239.9" cy="508.1" r="1.5" fill="#b0102c" />
<circle cx="258" cy="498.4" r="1.5" fill="#b0102c" />
<text transform="translate(128,527.5) rotate(-90)" font-size="9.4" text-anchor="middle" fill="#2b2b2b" textLength="15.6" lengthAdjust="spacingAndGlyphs" style="stroke-width:0.45px">Hcar2</text>
<text x="203.1" y="596.3" font-size="9" fill="#2b2b2b" textLength="18.2" lengthAdjust="spacingAndGlyphs" style="stroke-width:0.45px">Hmox1</text>
<text x="264.1" y="551.6" font-size="7.7" text-anchor="end" fill="#2b2b2b" textLength="29.4" lengthAdjust="spacingAndGlyphs">R = 0,98</text>
<text x="265.3" y="560.8" font-size="7.7" text-anchor="end" fill="#2b2b2b" textLength="32.3" lengthAdjust="spacingAndGlyphs"><tspan font-style="italic">P</tspan> &lt; ,0001</text>
<text x="201.8" y="308.2" font-size="10" fill="#111" font-weight="bold">G</text>
<text x="256.6" y="309.5" font-size="9.2" fill="#2b2b2b" textLength="40.1" lengthAdjust="spacingAndGlyphs">Hemolysis</text>
<line x1="240.2" y1="315.1" x2="240.2" y2="425.7" stroke="#1a1a1a" stroke-width="1.1" />
<line x1="237.2" y1="317.3" x2="240.2" y2="317.3" stroke="#1a1a1a" stroke-width="1.1" />
<text x="234.2" y="319.75" font-size="6.8" text-anchor="end" fill="#2b2b2b">3</text>
<line x1="237.2" y1="342.4" x2="240.2" y2="342.4" stroke="#1a1a1a" stroke-width="1.1" />
<text x="234.2" y="344.85" font-size="6.8" text-anchor="end" fill="#2b2b2b">2</text>
<line x1="237.2" y1="367.6" x2="240.2" y2="367.6" stroke="#1a1a1a" stroke-width="1.1" />
<text x="234.2" y="370.05" font-size="6.8" text-anchor="end" fill="#2b2b2b">1</text>
<line x1="237.2" y1="392.8" x2="240.2" y2="392.8" stroke="#1a1a1a" stroke-width="1.1" />
<text x="234.2" y="395.25" font-size="6.8" text-anchor="end" fill="#2b2b2b">0</text>
<line x1="237.2" y1="418" x2="240.2" y2="418" stroke="#1a1a1a" stroke-width="1.1" />
<text x="234.2" y="420.45" font-size="6.8" text-anchor="end" fill="#2b2b2b">−1</text>
<line x1="240.2" y1="425.7" x2="312.5" y2="425.7" stroke="#1a1a1a" stroke-width="1.1" />
<line x1="260.5" y1="425.7" x2="260.5" y2="428.7" stroke="#1a1a1a" stroke-width="1.1" />
<line x1="291.4" y1="425.7" x2="291.4" y2="428.7" stroke="#1a1a1a" stroke-width="1.1" />
<text transform="translate(208.7,370.75) rotate(-90)" font-size="7.8" text-anchor="middle" fill="#2b2b2b" textLength="65.9" lengthAdjust="spacingAndGlyphs" style="stroke-width:0.45px">Hcar2 liver mRNA, log 2</text>
<text transform="translate(220.3,371.1) rotate(-90)" font-size="7.8" text-anchor="middle" fill="#2b2b2b" textLength="38.2" lengthAdjust="spacingAndGlyphs" style="stroke-width:0.45px">(fold change)</text>
<path d="M260.4,354 V333.3 H291.5 V339.3" fill="none" stroke="#3a3a3a" stroke-width="1.1" />
<text x="276.5" y="332.9" font-size="7" text-anchor="middle" fill="#2b2b2b">****</text>
<circle cx="260.4" cy="360.6" r="1.8" fill="#c47a2e" />
<circle cx="260.6" cy="381.5" r="1.8" fill="#c47a2e" />
<circle cx="257.1" cy="392.5" r="1.8" fill="#c47a2e" />
<circle cx="264" cy="390" r="1.8" fill="#c47a2e" />
<circle cx="257.1" cy="398.4" r="1.8" fill="#c47a2e" />
<circle cx="264" cy="396" r="1.8" fill="#c47a2e" />
<circle cx="260.6" cy="407" r="1.8" fill="#c47a2e" />
<circle cx="257.1" cy="410.7" r="1.8" fill="#c47a2e" />
<circle cx="264" cy="411.9" r="1.8" fill="#c47a2e" />
<circle cx="260.6" cy="424.4" r="1.8" fill="#c47a2e" />
<line x1="260.6" y1="379.4" x2="260.6" y2="415.4" stroke="#2e2e2e" stroke-width="1.15" />
<line x1="255.6" y1="379.4" x2="265.6" y2="379.4" stroke="#2e2e2e" stroke-width="1.15" />
<line x1="255.6" y1="415.4" x2="265.6" y2="415.4" stroke="#2e2e2e" stroke-width="1.15" />
<line x1="250.6" y1="397.2" x2="270.6" y2="397.2" stroke="#2e2e2e" stroke-width="1.15" />
<rect x="289.7" y="344.2" width="3.2" height="3.2" fill="#c9761f" rx="0.6"/>
<rect x="288" y="347.9" width="3.2" height="3.2" fill="#c9761f" rx="0.6"/>
<rect x="291.4" y="347.6" width="3.2" height="3.2" fill="#c9761f" rx="0.6"/>
<rect x="281.3" y="352.2" width="3.2" height="3.2" fill="#c9761f" rx="0.6"/>
<rect x="280.7" y="355.1" width="3.2" height="3.2" fill="#c9761f" rx="0.6"/>
<rect x="289.7" y="352.5" width="3.2" height="3.2" fill="#c9761f" rx="0.6"/>
<rect x="294.3" y="353.7" width="3.2" height="3.2" fill="#c9761f" rx="0.6"/>
<rect x="298.6" y="353.7" width="3.2" height="3.2" fill="#c9761f" rx="0.6"/>
<rect x="285.4" y="357.7" width="3.2" height="3.2" fill="#c9761f" rx="0.6"/>
<rect x="294" y="357.7" width="3.2" height="3.2" fill="#c9761f" rx="0.6"/>
<rect x="289.7" y="355.7" width="3.2" height="3.2" fill="#c9761f" rx="0.6"/>
<rect x="285.7" y="365.2" width="3.2" height="3.2" fill="#c9761f" rx="0.6"/>
<rect x="294" y="364.7" width="3.2" height="3.2" fill="#c9761f" rx="0.6"/>
<rect x="287.9" y="360.4" width="3.2" height="3.2" fill="#c9761f" rx="0.6"/>
<rect x="291.4" y="359.9" width="3.2" height="3.2" fill="#c9761f" rx="0.6"/>
<line x1="291.3" y1="350.4" x2="291.3" y2="363.4" stroke="#2e2e2e" stroke-width="1.15" />
<line x1="286.3" y1="350.4" x2="296.3" y2="350.4" stroke="#2e2e2e" stroke-width="1.15" />
<line x1="286.3" y1="363.4" x2="296.3" y2="363.4" stroke="#2e2e2e" stroke-width="1.15" />
<line x1="281.3" y1="357.3" x2="301.3" y2="357.3" stroke="#2e2e2e" stroke-width="1.15" />
<text transform="translate(264.9,435.8) rotate(-45)" font-size="8.1" text-anchor="end" fill="#2b2b2b">PBS</text>
<text transform="translate(295.2,435.8) rotate(-45)" font-size="8.1" text-anchor="end" fill="#2b2b2b">PHZ</text>
<text x="359.5" y="308.2" font-size="10" fill="#111" font-weight="bold">H</text>
<text x="428" y="309.5" font-size="9.2" fill="#2b2b2b" textLength="39.1" lengthAdjust="spacingAndGlyphs">Sickle cell</text>
<line x1="393.6" y1="315.1" x2="393.6" y2="425.4" stroke="#1a1a1a" stroke-width="1.1" />
<line x1="390.6" y1="317.3" x2="393.6" y2="317.3" stroke="#1a1a1a" stroke-width="1.1" />
<text transform="translate(387.9,317.3) rotate(-90)" font-size="6.8" text-anchor="middle" fill="#2b2b2b">6</text>
<line x1="390.6" y1="348.5" x2="393.6" y2="348.5" stroke="#1a1a1a" stroke-width="1.1" />
<text transform="translate(387.9,348.5) rotate(-90)" font-size="6.8" text-anchor="middle" fill="#2b2b2b">4</text>
<line x1="390.6" y1="379.6" x2="393.6" y2="379.6" stroke="#1a1a1a" stroke-width="1.1" />
<text transform="translate(387.9,379.6) rotate(-90)" font-size="6.8" text-anchor="middle" fill="#2b2b2b">2</text>
<line x1="390.6" y1="410.7" x2="393.6" y2="410.7" stroke="#1a1a1a" stroke-width="1.1" />
<text transform="translate(387.9,410.7) rotate(-90)" font-size="6.8" text-anchor="middle" fill="#2b2b2b">0</text>
<line x1="393.6" y1="425.4" x2="501.2" y2="425.4" stroke="#1a1a1a" stroke-width="1.1" />
<line x1="410.4" y1="425.4" x2="410.4" y2="428.4" stroke="#1a1a1a" stroke-width="1.1" />
<line x1="435.2" y1="425.4" x2="435.2" y2="428.4" stroke="#1a1a1a" stroke-width="1.1" />
<line x1="460" y1="425.4" x2="460" y2="428.4" stroke="#1a1a1a" stroke-width="1.1" />
<line x1="484.8" y1="425.4" x2="484.8" y2="428.4" stroke="#1a1a1a" stroke-width="1.1" />
<text transform="translate(365.7,370.15) rotate(-90)" font-size="7.8" text-anchor="middle" fill="#2b2b2b" textLength="67.3" lengthAdjust="spacingAndGlyphs" style="stroke-width:0.45px">Hcar2 liver mRNA, log 2</text>
<text transform="translate(377.4,370.1) rotate(-90)" font-size="7.8" text-anchor="middle" fill="#2b2b2b" textLength="38.8" lengthAdjust="spacingAndGlyphs" style="stroke-width:0.45px">(fold change)</text>
<path d="M410.4,390.3 V323.4 H435.2 V344.4" fill="none" stroke="#3a3a3a" stroke-width="1.1" />
<text x="422.6" y="322.7" font-size="7" text-anchor="middle" fill="#2b2b2b">*</text>
<path d="M460,356 V323.4 H484.8 V329.4" fill="none" stroke="#3a3a3a" stroke-width="1.1" />
<text x="472.2" y="322.7" font-size="7" text-anchor="middle" fill="#2b2b2b">*</text>
<circle cx="410.4" cy="397.1" r="1.9" fill="#c47a2e" />
<circle cx="404.1" cy="415.8" r="1.9" fill="#c47a2e" />
<circle cx="416.2" cy="413.6" r="1.9" fill="#c47a2e" />
<circle cx="404.1" cy="423.4" r="1.9" fill="#c47a2e" />
<circle cx="416.2" cy="420.5" r="1.9" fill="#c47a2e" />
<path d="M408.2,401.75 L412.6,401.75 L410.4,405.6 Z" fill="#c47a2e" />
<line x1="410.4" y1="402.4" x2="410.4" y2="422.7" stroke="#2e2e2e" stroke-width="1.15" />
<line x1="406.6" y1="402.4" x2="414.2" y2="402.4" stroke="#2e2e2e" stroke-width="1.15" />
<line x1="406.6" y1="422.7" x2="414.2" y2="422.7" stroke="#2e2e2e" stroke-width="1.15" />
<line x1="402.2" y1="412.4" x2="418.6" y2="412.4" stroke="#2e2e2e" stroke-width="1.15" />
<path d="M433,348.85 L437.4,348.85 L435.2,352.7 Z" fill="#c47a2e" />
<path d="M426.4,373.35 L430.8,373.35 L428.6,377.2 Z" fill="#c47a2e" />
<path d="M439.2,373.35 L443.6,373.35 L441.4,377.2 Z" fill="#c47a2e" />
<path d="M433,387.95 L437.4,387.95 L435.2,391.8 Z" fill="#c47a2e" />
<circle cx="435.2" cy="366" r="1.9" fill="#c47a2e" />
<circle cx="435.2" cy="377.2" r="1.9" fill="#c47a2e" />
<line x1="435.2" y1="360.1" x2="435.2" y2="386.4" stroke="#2e2e2e" stroke-width="1.15" />
<line x1="430" y1="360.1" x2="440.4" y2="360.1" stroke="#2e2e2e" stroke-width="1.15" />
<line x1="430" y1="386.4" x2="440.4" y2="386.4" stroke="#2e2e2e" stroke-width="1.15" />
<line x1="427.4" y1="373.2" x2="443" y2="373.2" stroke="#2e2e2e" stroke-width="1.15" />
<path d="M460,360.3 L462.3,362.6 L460,364.9 L457.7,362.6 Z" fill="#c47a2e" />
<path d="M453.4,374.9 L455.7,377.2 L453.4,379.5 L451.1,377.2 Z" fill="#c47a2e" />
<path d="M466.2,373 L468.5,375.3 L466.2,377.6 L463.9,375.3 Z" fill="#c47a2e" />
<path d="M466.2,377.8 L468.5,380.1 L466.2,382.4 L463.9,380.1 Z" fill="#c47a2e" />
<path d="M460,373.4 L462.3,375.7 L460,378 L457.7,375.7 Z" fill="#c47a2e" />
<path d="M460,381.4 L462.3,383.7 L460,386 L457.7,383.7 Z" fill="#c47a2e" />
<path d="M460,387.3 L462.3,389.6 L460,391.9 L457.7,389.6 Z" fill="#c47a2e" />
<path d="M460,396.7 L462.3,399 L460,401.3 L457.7,399 Z" fill="#c47a2e" />
<line x1="460" y1="369.9" x2="460" y2="391" stroke="#2e2e2e" stroke-width="1.15" />
<line x1="454.5" y1="369.9" x2="465.5" y2="369.9" stroke="#2e2e2e" stroke-width="1.15" />
<line x1="454.5" y1="391" x2="465.5" y2="391" stroke="#2e2e2e" stroke-width="1.15" />
<line x1="452.5" y1="380.1" x2="467.5" y2="380.1" stroke="#2e2e2e" stroke-width="1.15" />
<circle cx="484.8" cy="336.3" r="2.2" fill="none" stroke="#b98a4c" stroke-width="0.9"/>
<circle cx="481.3" cy="348" r="2.2" fill="none" stroke="#b98a4c" stroke-width="0.9"/>
<circle cx="487.8" cy="348.4" r="2.2" fill="none" stroke="#b98a4c" stroke-width="0.9"/>
<circle cx="484.6" cy="352.9" r="2.2" fill="none" stroke="#b98a4c" stroke-width="0.9"/>
<circle cx="478.5" cy="359.7" r="2.2" fill="none" stroke="#b98a4c" stroke-width="0.9"/>
<circle cx="483.4" cy="363" r="2.2" fill="none" stroke="#b98a4c" stroke-width="0.9"/>
<circle cx="491" cy="362.8" r="2.2" fill="none" stroke="#b98a4c" stroke-width="0.9"/>
<circle cx="485" cy="368.2" r="2.2" fill="none" stroke="#b98a4c" stroke-width="0.9"/>
<line x1="484.8" y1="344.4" x2="484.8" y2="365.2" stroke="#2e2e2e" stroke-width="1.15" />
<line x1="480.8" y1="344.4" x2="488.8" y2="344.4" stroke="#2e2e2e" stroke-width="1.15" />
<line x1="480.8" y1="365.2" x2="488.8" y2="365.2" stroke="#2e2e2e" stroke-width="1.15" />
<line x1="476.8" y1="355.1" x2="492.8" y2="355.1" stroke="#2e2e2e" stroke-width="1.15" />
<text transform="translate(414.9,436.5) rotate(-45)" font-size="8" text-anchor="end" fill="#2b2b2b" textLength="57" lengthAdjust="spacingAndGlyphs">HbAA PBS/PBS</text>
<text transform="translate(439,436.5) rotate(-45)" font-size="8" text-anchor="end" fill="#2b2b2b" textLength="56" lengthAdjust="spacingAndGlyphs">HbSS PBS/PBS</text>
<text transform="translate(464.3,436.2) rotate(-45)" font-size="8" text-anchor="end" fill="#2b2b2b" textLength="57" lengthAdjust="spacingAndGlyphs">HbSS PBS<tspan font-size="6.6">/heme</tspan></text>
<text transform="translate(488.8,435.5) rotate(-45)" font-size="8" text-anchor="end" fill="#2b2b2b" textLength="63" lengthAdjust="spacingAndGlyphs">HbSS SnMP<tspan font-size="6.6">/heme</tspan></text>
<text x="7.3" y="472.6" font-size="10" fill="#111" font-weight="bold">I</text>
<text x="64" y="473.8" font-size="9.2" fill="#2b2b2b" textLength="22.9" lengthAdjust="spacingAndGlyphs">Heme</text>
<line x1="45.6" y1="479.9" x2="45.6" y2="571.2" stroke="#1a1a1a" stroke-width="1.1" />
<line x1="42.6" y1="482" x2="45.6" y2="482" stroke="#1a1a1a" stroke-width="1.1" />
<text x="39.2" y="484.45" font-size="6.8" text-anchor="end" fill="#2b2b2b">3</text>
<line x1="42.6" y1="504.5" x2="45.6" y2="504.5" stroke="#1a1a1a" stroke-width="1.1" />
<text x="39.2" y="506.95" font-size="6.8" text-anchor="end" fill="#2b2b2b">2</text>
<line x1="42.6" y1="526.6" x2="45.6" y2="526.6" stroke="#1a1a1a" stroke-width="1.1" />
<text x="39.2" y="529.05" font-size="6.8" text-anchor="end" fill="#2b2b2b">1</text>
<line x1="42.6" y1="549" x2="45.6" y2="549" stroke="#1a1a1a" stroke-width="1.1" />
<text x="39.2" y="551.45" font-size="6.8" text-anchor="end" fill="#2b2b2b">0</text>
<line x1="42.6" y1="571.2" x2="45.6" y2="571.2" stroke="#1a1a1a" stroke-width="1.1" />
<text x="39.2" y="573.65" font-size="6.8" text-anchor="end" fill="#2b2b2b">−1</text>
<line x1="45.6" y1="571.2" x2="105.4" y2="571.2" stroke="#1a1a1a" stroke-width="1.1" />
<line x1="62.3" y1="571.2" x2="62.3" y2="574.2" stroke="#1a1a1a" stroke-width="1.1" />
<line x1="88" y1="571.2" x2="88" y2="574.2" stroke="#1a1a1a" stroke-width="1.1" />
<text transform="translate(13.65,525.85) rotate(-90)" font-size="7.8" text-anchor="middle" fill="#2b2b2b" textLength="66.3" lengthAdjust="spacingAndGlyphs" style="stroke-width:0.45px">Hcar2 liver mRNA, log 2</text>
<text transform="translate(25.25,525.4) rotate(-90)" font-size="7.8" text-anchor="middle" fill="#2b2b2b" textLength="38" lengthAdjust="spacingAndGlyphs" style="stroke-width:0.45px">(fold change)</text>
<path d="M62.5,526 V485.6 H88.1 V490.3" fill="none" stroke="#3a3a3a" stroke-width="1.1" />
<text x="74.4" y="485.5" font-size="7" text-anchor="middle" fill="#2b2b2b">*</text>
<circle cx="62.5" cy="530" r="1.7" fill="#c47a2e" />
<circle cx="62.5" cy="546.5" r="1.7" fill="#c47a2e" />
<circle cx="62.5" cy="556" r="1.7" fill="#c47a2e" />
<circle cx="62.5" cy="566" r="1.7" fill="#c47a2e" />
<path d="M60.5,538.1 L64.5,538.1 L62.5,541.6 Z" fill="#c47a2e" />
<line x1="62.5" y1="537.9" x2="62.5" y2="566.9" stroke="#2e2e2e" stroke-width="1.15" />
<line x1="58.5" y1="537.9" x2="66.5" y2="537.9" stroke="#2e2e2e" stroke-width="1.15" />
<line x1="58.5" y1="566.9" x2="66.5" y2="566.9" stroke="#2e2e2e" stroke-width="1.15" />
<line x1="54.2" y1="552.1" x2="70.8" y2="552.1" stroke="#2e2e2e" stroke-width="1.15" />
<circle cx="88" cy="498.5" r="1.7" fill="#c47a2e" />
<circle cx="88" cy="507" r="1.7" fill="#c47a2e" />
<circle cx="88" cy="528" r="1.7" fill="#c47a2e" />
<line x1="88" y1="496.8" x2="88" y2="527.5" stroke="#2e2e2e" stroke-width="1.15" />
<line x1="84.2" y1="496.8" x2="91.8" y2="496.8" stroke="#2e2e2e" stroke-width="1.15" />
<line x1="84.2" y1="527.5" x2="91.8" y2="527.5" stroke="#2e2e2e" stroke-width="1.15" />
<line x1="78.8" y1="511.6" x2="97.2" y2="511.6" stroke="#2e2e2e" stroke-width="1.15" />
<text transform="translate(67.2,581.5) rotate(-45)" font-size="8" text-anchor="end" fill="#2b2b2b" textLength="39" lengthAdjust="spacingAndGlyphs">HbAA PBS</text>
<text transform="translate(91.4,581.3) rotate(-45)" font-size="8" text-anchor="end" fill="#2b2b2b" textLength="39.5" lengthAdjust="spacingAndGlyphs">HbAA heme</text>
<rect x="0.5" y="0.5" width="519" height="617" fill="none" stroke="#5a5a5a" stroke-width="1"/>
</svg>
</body></html>
